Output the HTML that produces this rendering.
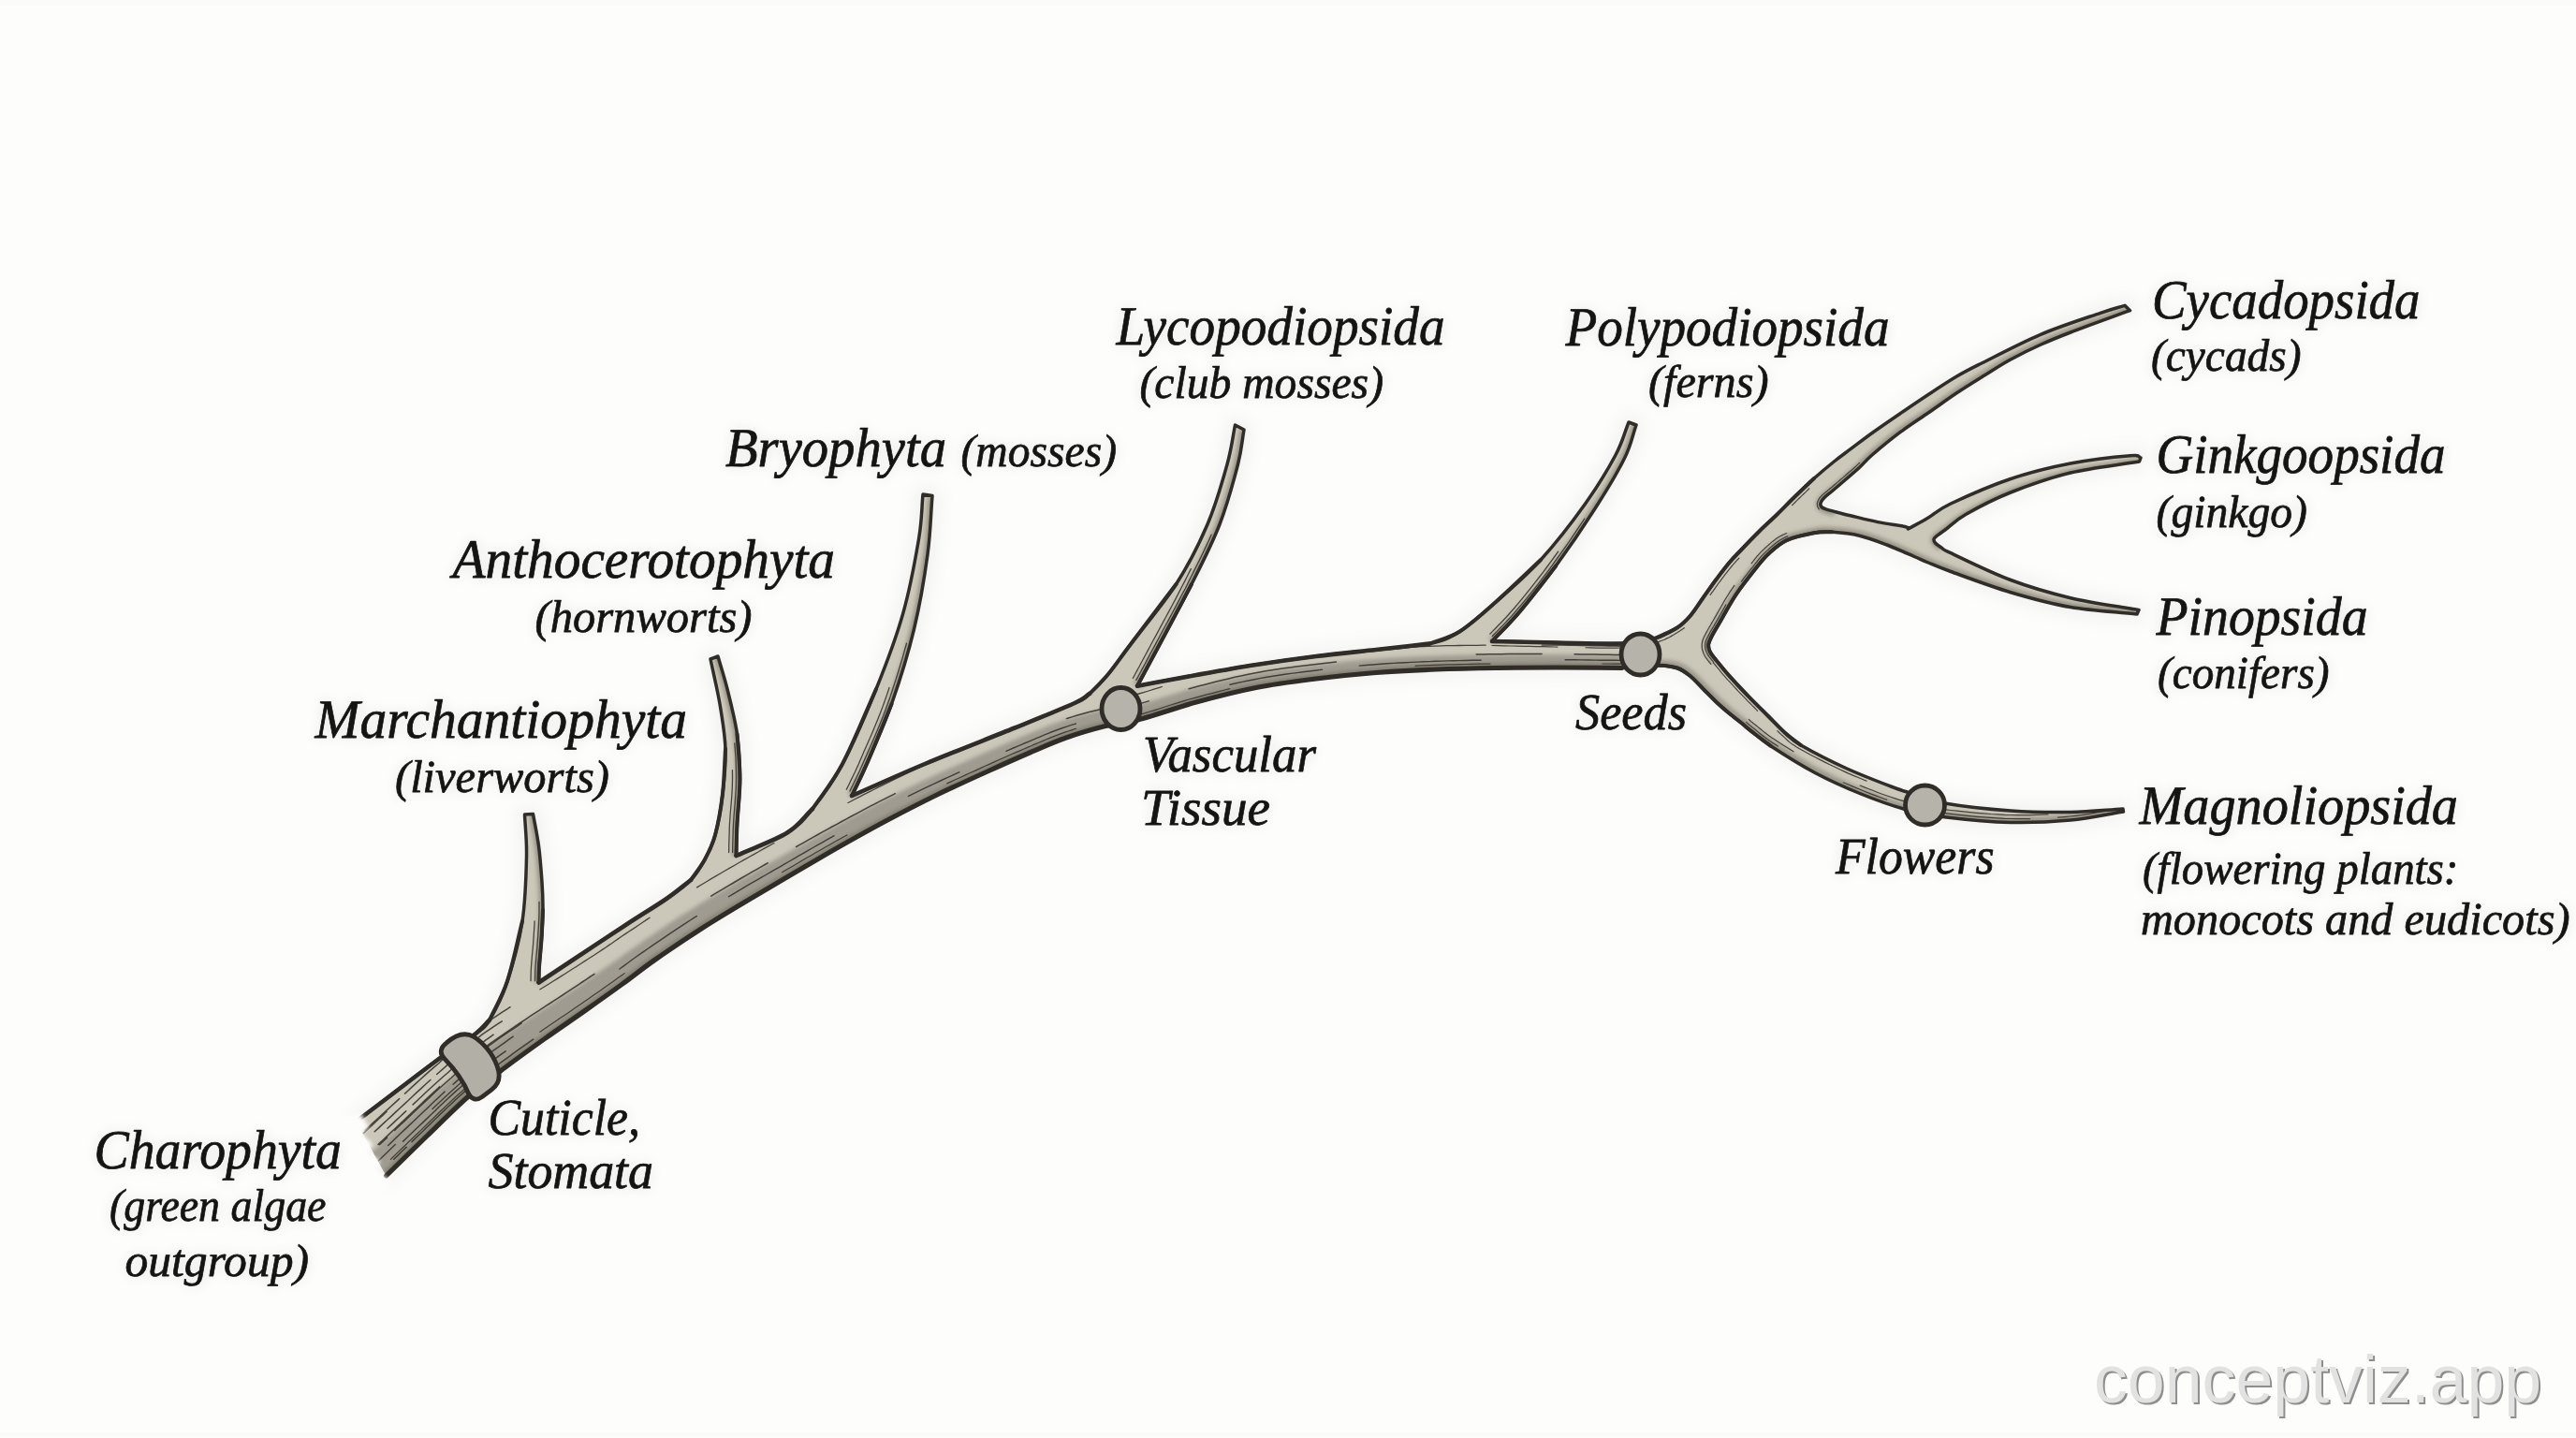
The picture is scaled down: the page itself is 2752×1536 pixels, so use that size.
<!DOCTYPE html>
<html lang="en">
<head>
<meta charset="utf-8">
<title>Land plant phylogeny</title>
<style>
  html, body { margin: 0; padding: 0; background: #fdfdfb; }
  body { width: 2752px; height: 1536px; overflow: hidden; position: relative;
         font-family: "Liberation Serif", serif; }
  svg { position: absolute; left: 0; top: 0; display: block; }
  .lbl text { font-family: "Liberation Serif", serif; font-style: italic; fill: #141414; stroke: #141414; stroke-width: 0.75px; stroke-linejoin: round; text-rendering: geometricPrecision; }
  .wm { position: absolute; left: 2237px; top: 1433px; font-family: "Liberation Sans", sans-serif;
        font-size: 71.7px; line-height: 80px; color: #e2e2e2; white-space: nowrap; letter-spacing: 0px;
        text-shadow: 2px 2px 0 #8e8e8e; }
</style>
</head>
<body>
<svg width="2752" height="1536" viewBox="0 0 2752 1536">
  <defs>
    <clipPath id="sil"><path d="M380.5 1198.0 C393.7 1188.0 404.6 1179.7 420.0 1168.0 C435.4 1156.3 458.5 1138.5 473.0 1128.0 C487.5 1117.5 498.7 1111.4 507.0 1105.0 C515.3 1098.6 517.2 1099.0 523.0 1089.5 C528.8 1080.0 536.2 1065.6 542.0 1048.0 C547.8 1030.4 554.6 1006.2 558.0 984.0 C561.4 961.8 562.1 934.0 562.5 915.0 C562.9 896.0 561.2 885.0 560.5 870.0 L569.5 869.5 C571.5 880.8 573.9 891.4 575.5 903.5 C577.1 915.6 578.2 930.6 579.0 942.0 C579.8 953.4 580.1 961.8 580.0 972.0 C579.9 982.2 579.2 992.8 578.5 1003.0 C577.8 1013.2 576.5 1025.2 576.0 1033.0 C575.5 1040.8 575.7 1044.0 575.5 1049.5 C590.3 1039.7 604.2 1030.4 620.0 1020.0 C635.8 1009.6 654.7 997.0 670.0 987.0 C685.3 977.0 700.7 967.8 712.0 960.0 C723.3 952.2 731.2 947.0 738.0 940.0 C744.8 933.0 748.7 926.0 753.0 918.0 C757.3 910.0 760.8 903.7 764.0 892.0 C767.2 880.3 770.2 863.3 772.0 848.0 C773.8 832.7 775.5 816.0 775.0 800.0 C774.5 784.0 771.7 768.0 769.0 752.0 C766.3 736.0 762.3 720.0 759.0 704.0 L767.0 701.0 C770.3 712.7 773.6 722.2 777.0 736.0 C780.4 749.8 785.2 768.0 787.5 784.0 C789.8 800.0 790.5 816.0 790.5 832.0 C790.5 848.0 788.2 866.3 787.5 880.0 C786.8 893.7 786.8 902.7 786.5 914.0 C804.7 905.8 827.4 897.8 841.0 889.5 C854.6 881.2 858.2 876.2 868.0 864.0 C877.8 851.8 888.7 837.3 900.0 816.0 C911.3 794.7 925.2 762.7 936.0 736.0 C946.8 709.3 956.9 682.7 964.5 656.0 C972.1 629.3 977.9 597.3 981.5 576.0 C985.1 554.7 984.5 544.0 986.0 528.0 L996.0 529.6 C994.3 550.4 994.2 568.3 991.0 592.0 C987.8 615.7 982.9 645.3 976.5 672.0 C970.1 698.7 960.9 728.0 952.5 752.0 C944.1 776.0 933.1 799.7 926.0 816.0 C918.9 832.3 915.3 838.7 910.0 850.0 C936.0 838.7 959.0 828.1 988.0 816.0 C1017.0 803.9 1057.3 788.3 1084.0 777.5 C1110.7 766.7 1134.7 757.1 1148.0 751.0 C1161.3 744.9 1158.0 746.2 1164.0 741.0 C1170.0 735.8 1176.7 728.8 1184.0 720.0 C1191.3 711.2 1195.9 704.0 1208.0 688.0 C1220.1 672.0 1242.8 645.3 1256.5 624.0 C1270.2 602.7 1280.9 581.3 1290.0 560.0 C1299.1 538.7 1306.1 513.7 1311.0 496.0 C1315.9 478.3 1316.7 468.0 1319.5 454.0 L1329.0 459.0 C1326.8 471.3 1326.8 479.2 1322.5 496.0 C1318.2 512.8 1311.2 538.7 1303.0 560.0 C1294.8 581.3 1283.7 602.7 1273.0 624.0 C1262.3 645.3 1248.7 669.9 1239.0 688.0 C1229.3 706.1 1223.0 717.8 1215.0 732.7 C1236.0 728.8 1256.8 724.8 1278.0 721.0 C1299.2 717.2 1320.7 713.3 1342.0 710.0 C1363.3 706.7 1384.7 703.7 1406.0 701.0 C1427.3 698.3 1449.8 696.2 1470.0 694.0 C1490.2 691.8 1512.6 690.8 1527.5 687.5 C1542.4 684.2 1547.8 681.9 1559.5 674.5 C1571.2 667.1 1583.6 655.8 1598.0 643.0 C1612.4 630.2 1630.0 615.6 1646.0 598.0 C1662.0 580.4 1680.7 556.2 1694.0 537.5 C1707.3 518.8 1718.3 500.4 1726.0 486.0 C1733.7 471.6 1735.3 462.7 1740.0 451.0 L1748.0 454.0 C1743.8 465.9 1742.9 474.6 1735.5 489.6 C1728.1 504.6 1715.8 524.8 1703.5 544.0 C1691.2 563.2 1675.3 586.5 1662.0 604.7 C1648.7 623.0 1634.8 640.1 1623.5 653.5 C1612.2 666.9 1603.8 674.5 1594.0 685.0 C1616.7 685.5 1639.0 686.1 1662.0 686.5 C1685.0 686.9 1714.3 688.2 1732.0 687.5 C1749.7 686.8 1758.0 684.8 1768.0 682.0 C1778.0 679.2 1785.4 674.5 1791.7 670.5 C1798.0 666.5 1801.0 663.3 1805.6 658.0 C1810.2 652.7 1814.9 645.0 1819.5 638.5 C1824.1 632.0 1828.8 625.2 1833.4 619.0 C1838.1 612.8 1843.0 606.2 1847.4 601.0 C1851.8 595.8 1854.6 593.2 1860.0 587.5 C1865.4 581.8 1873.5 573.4 1880.0 567.0 C1886.5 560.6 1892.7 555.2 1899.0 549.0 C1905.3 542.8 1911.5 536.3 1918.0 530.0 C1924.5 523.7 1931.0 517.2 1938.0 511.0 C1945.0 504.8 1953.5 497.7 1960.0 492.5 C1966.5 487.3 1970.3 484.7 1977.0 479.7 C1983.7 474.7 1991.2 468.8 2000.0 462.5 C2008.8 456.2 2020.0 448.5 2030.0 441.7 C2040.0 434.9 2050.0 428.1 2060.0 421.5 C2070.0 414.9 2080.7 407.8 2090.0 402.3 C2099.3 396.8 2101.0 396.0 2116.0 388.5 C2131.0 381.0 2158.7 366.3 2180.0 357.3 C2201.3 348.3 2229.0 339.5 2244.0 334.3 C2259.0 329.1 2261.3 329.0 2270.0 326.3 L2275.5 331.7 C2254.3 339.5 2227.8 348.9 2212.0 355.0 C2196.2 361.1 2191.1 363.2 2180.4 368.0 C2169.7 372.8 2158.1 378.5 2148.0 384.0 C2137.9 389.5 2129.7 395.0 2120.0 401.0 C2110.3 407.0 2100.0 413.3 2090.0 420.0 C2080.0 426.7 2070.0 434.1 2060.0 441.0 C2050.0 447.9 2040.0 454.2 2030.0 461.7 C2020.0 469.2 2007.2 479.8 2000.0 486.0 C1992.8 492.2 1991.3 494.9 1986.6 499.2 C1981.9 503.5 1976.9 507.8 1972.0 512.0 C1967.1 516.2 1961.3 521.2 1957.4 524.5 C1953.5 527.8 1950.6 529.8 1948.5 532.0 C1946.4 534.2 1945.4 535.9 1945.0 537.5 C1944.6 539.1 1945.1 540.5 1946.0 541.5 C1946.9 542.5 1948.2 543.0 1950.5 543.8 C1952.8 544.6 1956.8 545.6 1960.0 546.5 C1965.6 547.9 1969.1 548.9 1976.8 550.8 C1984.5 552.6 1996.3 555.6 2006.0 557.6 C2015.7 559.6 2029.6 561.3 2035.0 562.5 C2040.4 563.7 2037.3 564.2 2038.5 565.0 C2045.7 561.0 2052.4 557.5 2060.0 553.0 C2067.6 548.5 2069.3 544.9 2084.0 538.0 C2098.7 531.1 2126.7 518.7 2148.0 511.5 C2169.3 504.3 2190.7 499.1 2212.0 495.0 C2233.3 490.9 2263.5 487.7 2276.0 486.7 C2288.5 485.7 2283.3 488.2 2287.0 489.0 L2285.5 493.0 C2261.0 497.0 2234.9 499.5 2212.0 505.0 C2189.1 510.5 2166.7 518.6 2148.0 526.0 C2129.3 533.4 2111.7 542.8 2100.0 549.5 C2088.3 556.2 2083.2 562.2 2078.0 566.0 C2072.8 569.8 2071.0 570.8 2069.0 572.5 C2067.0 574.2 2066.2 574.8 2066.0 576.0 C2065.8 577.2 2066.2 578.5 2067.5 580.0 C2068.8 581.5 2071.8 583.3 2074.0 585.0 C2077.3 586.9 2071.7 585.0 2084.0 590.7 C2096.3 596.5 2126.7 611.5 2148.0 619.5 C2169.3 627.5 2190.7 633.6 2212.0 638.7 C2233.3 643.8 2263.8 647.9 2276.0 650.0 C2288.2 652.1 2282.0 651.0 2285.0 651.5 L2283.0 656.0 C2259.3 653.5 2234.5 652.4 2212.0 648.5 C2189.5 644.6 2169.3 639.0 2148.0 632.7 C2126.7 626.4 2098.7 615.8 2084.0 610.5 C2069.3 605.2 2066.5 603.7 2060.0 601.0 C2053.5 598.3 2052.4 597.7 2045.0 594.5 C2037.6 591.3 2025.5 585.7 2015.8 582.0 C2006.1 578.3 1996.3 574.5 1986.6 572.2 C1976.9 569.9 1965.5 568.8 1957.4 568.3 C1949.3 567.8 1946.0 567.8 1937.9 569.3 C1929.8 570.8 1916.8 573.4 1908.7 577.1 C1900.6 580.8 1894.8 586.6 1889.2 591.7 C1883.6 596.8 1881.0 600.5 1875.2 607.8 C1869.4 615.1 1860.5 626.3 1854.3 635.6 C1848.1 644.9 1842.3 656.0 1838.0 663.4 C1833.7 670.8 1830.6 675.8 1828.5 680.0 C1826.4 684.2 1825.5 685.8 1825.2 688.5 C1825.0 691.2 1825.6 693.7 1827.0 696.5 C1828.4 699.3 1831.3 702.3 1833.4 705.2 C1838.1 710.8 1841.6 715.4 1847.4 721.9 C1853.2 728.4 1861.2 736.9 1868.2 744.1 C1875.2 751.3 1882.6 758.5 1889.1 765.0 C1895.6 771.5 1901.4 777.8 1907.2 783.0 C1913.0 788.2 1913.2 789.8 1924.0 796.0 C1934.8 802.2 1956.0 813.2 1972.0 820.5 C1988.0 827.8 2008.8 835.7 2020.0 840.0 C2031.2 844.3 2029.4 843.5 2039.0 846.5 C2048.6 849.5 2059.3 854.8 2077.5 858.0 C2095.7 861.2 2125.6 864.4 2148.0 866.0 C2170.4 867.6 2192.0 867.8 2212.0 867.5 C2232.0 867.2 2249.3 865.2 2268.0 864.0 L2268.5 867.0 C2249.7 870.0 2232.1 874.1 2212.0 876.0 C2191.9 877.9 2170.4 879.0 2148.0 878.5 C2125.6 878.0 2096.2 875.0 2077.5 872.7 C2058.8 870.4 2050.9 868.8 2036.0 864.7 C2021.1 860.6 2004.0 854.5 1988.0 848.0 C1972.0 841.5 1956.0 834.5 1940.0 826.0 C1924.0 817.5 1903.7 804.7 1892.0 797.0 C1880.3 789.3 1874.7 784.0 1869.6 780.0 C1864.5 776.0 1865.0 776.0 1861.3 773.0 C1857.6 770.0 1852.1 765.9 1847.4 762.0 C1842.8 758.1 1838.1 754.1 1833.4 749.7 C1828.8 745.3 1824.1 740.4 1819.5 735.8 C1814.9 731.2 1810.2 725.7 1805.6 722.0 C1801.0 718.3 1797.2 715.4 1791.7 713.5 C1786.2 711.6 1782.2 710.7 1772.3 710.7 C1762.3 710.7 1745.4 712.6 1732.0 713.5 C1708.7 713.3 1684.3 713.0 1662.0 713.0 C1639.7 713.0 1619.3 713.2 1598.0 713.5 C1576.7 713.8 1555.3 714.2 1534.0 715.0 C1512.7 715.8 1491.3 716.8 1470.0 718.5 C1448.7 720.2 1427.3 722.3 1406.0 725.0 C1384.7 727.7 1363.3 730.3 1342.0 734.5 C1320.7 738.7 1298.5 744.4 1278.0 750.0 C1257.5 755.6 1235.2 763.8 1219.0 768.0 C1202.8 772.2 1194.3 772.2 1181.0 775.5 C1167.7 778.8 1152.5 783.2 1139.0 788.0 C1125.5 792.8 1114.0 798.0 1100.0 804.0 C1086.0 810.0 1071.7 816.4 1055.0 824.0 C1038.3 831.6 1017.5 841.0 1000.0 849.5 C982.5 858.0 966.7 866.2 950.0 875.0 C933.3 883.8 916.7 893.1 900.0 902.5 C883.3 911.9 866.7 921.8 850.0 931.5 C833.3 941.2 816.7 951.0 800.0 961.0 C783.3 971.0 766.7 980.8 750.0 991.5 C733.3 1002.2 714.2 1015.1 700.0 1025.0 C685.8 1034.9 677.5 1041.9 665.0 1051.0 C652.5 1060.1 638.8 1069.8 625.0 1079.5 C611.2 1089.2 596.2 1099.4 582.0 1109.5 C567.8 1119.6 553.7 1129.7 540.0 1140.0 C526.3 1150.3 514.0 1159.2 500.0 1171.5 C486.0 1183.8 470.6 1199.4 456.0 1213.5 C441.4 1227.6 427.0 1241.8 412.5 1256.0 Z"/></clipPath>
    <filter id="b2" x="-5%" y="-5%" width="110%" height="110%"><feGaussianBlur stdDeviation="2.2"/></filter>
    <filter id="b4" x="-5%" y="-5%" width="110%" height="110%"><feGaussianBlur stdDeviation="4"/></filter>
    <filter id="b8" x="-5%" y="-5%" width="110%" height="110%"><feGaussianBlur stdDeviation="7"/></filter>
    <filter id="halo" x="-5%" y="-5%" width="110%" height="110%"><feGaussianBlur stdDeviation="9"/></filter>
    <linearGradient id="cut" gradientUnits="userSpaceOnUse" x1="378" y1="1240" x2="420" y2="1208">
      <stop offset="0" stop-color="#fdfdfb" stop-opacity="1"/>
      <stop offset="0.35" stop-color="#fdfdfb" stop-opacity="0.9"/>
      <stop offset="1" stop-color="#fdfdfb" stop-opacity="0"/>
    </linearGradient>
  </defs>
  <rect width="2752" height="1536" fill="#fdfdfb"/>

  <rect x="0" y="0" width="2752" height="5" fill="#000" fill-opacity="0.008"/>
  <rect x="0" y="1530" width="2752" height="5" fill="#000" fill-opacity="0.008"/>

  <!-- soft paper halo under the drawing -->
  <path d="M380.5 1198.0 C393.7 1188.0 404.6 1179.7 420.0 1168.0 C435.4 1156.3 458.5 1138.5 473.0 1128.0 C487.5 1117.5 498.7 1111.4 507.0 1105.0 C515.3 1098.6 517.2 1099.0 523.0 1089.5 C528.8 1080.0 536.2 1065.6 542.0 1048.0 C547.8 1030.4 554.6 1006.2 558.0 984.0 C561.4 961.8 562.1 934.0 562.5 915.0 C562.9 896.0 561.2 885.0 560.5 870.0 L569.5 869.5 C571.5 880.8 573.9 891.4 575.5 903.5 C577.1 915.6 578.2 930.6 579.0 942.0 C579.8 953.4 580.1 961.8 580.0 972.0 C579.9 982.2 579.2 992.8 578.5 1003.0 C577.8 1013.2 576.5 1025.2 576.0 1033.0 C575.5 1040.8 575.7 1044.0 575.5 1049.5 C590.3 1039.7 604.2 1030.4 620.0 1020.0 C635.8 1009.6 654.7 997.0 670.0 987.0 C685.3 977.0 700.7 967.8 712.0 960.0 C723.3 952.2 731.2 947.0 738.0 940.0 C744.8 933.0 748.7 926.0 753.0 918.0 C757.3 910.0 760.8 903.7 764.0 892.0 C767.2 880.3 770.2 863.3 772.0 848.0 C773.8 832.7 775.5 816.0 775.0 800.0 C774.5 784.0 771.7 768.0 769.0 752.0 C766.3 736.0 762.3 720.0 759.0 704.0 L767.0 701.0 C770.3 712.7 773.6 722.2 777.0 736.0 C780.4 749.8 785.2 768.0 787.5 784.0 C789.8 800.0 790.5 816.0 790.5 832.0 C790.5 848.0 788.2 866.3 787.5 880.0 C786.8 893.7 786.8 902.7 786.5 914.0 C804.7 905.8 827.4 897.8 841.0 889.5 C854.6 881.2 858.2 876.2 868.0 864.0 C877.8 851.8 888.7 837.3 900.0 816.0 C911.3 794.7 925.2 762.7 936.0 736.0 C946.8 709.3 956.9 682.7 964.5 656.0 C972.1 629.3 977.9 597.3 981.5 576.0 C985.1 554.7 984.5 544.0 986.0 528.0 L996.0 529.6 C994.3 550.4 994.2 568.3 991.0 592.0 C987.8 615.7 982.9 645.3 976.5 672.0 C970.1 698.7 960.9 728.0 952.5 752.0 C944.1 776.0 933.1 799.7 926.0 816.0 C918.9 832.3 915.3 838.7 910.0 850.0 C936.0 838.7 959.0 828.1 988.0 816.0 C1017.0 803.9 1057.3 788.3 1084.0 777.5 C1110.7 766.7 1134.7 757.1 1148.0 751.0 C1161.3 744.9 1158.0 746.2 1164.0 741.0 C1170.0 735.8 1176.7 728.8 1184.0 720.0 C1191.3 711.2 1195.9 704.0 1208.0 688.0 C1220.1 672.0 1242.8 645.3 1256.5 624.0 C1270.2 602.7 1280.9 581.3 1290.0 560.0 C1299.1 538.7 1306.1 513.7 1311.0 496.0 C1315.9 478.3 1316.7 468.0 1319.5 454.0 L1329.0 459.0 C1326.8 471.3 1326.8 479.2 1322.5 496.0 C1318.2 512.8 1311.2 538.7 1303.0 560.0 C1294.8 581.3 1283.7 602.7 1273.0 624.0 C1262.3 645.3 1248.7 669.9 1239.0 688.0 C1229.3 706.1 1223.0 717.8 1215.0 732.7 C1236.0 728.8 1256.8 724.8 1278.0 721.0 C1299.2 717.2 1320.7 713.3 1342.0 710.0 C1363.3 706.7 1384.7 703.7 1406.0 701.0 C1427.3 698.3 1449.8 696.2 1470.0 694.0 C1490.2 691.8 1512.6 690.8 1527.5 687.5 C1542.4 684.2 1547.8 681.9 1559.5 674.5 C1571.2 667.1 1583.6 655.8 1598.0 643.0 C1612.4 630.2 1630.0 615.6 1646.0 598.0 C1662.0 580.4 1680.7 556.2 1694.0 537.5 C1707.3 518.8 1718.3 500.4 1726.0 486.0 C1733.7 471.6 1735.3 462.7 1740.0 451.0 L1748.0 454.0 C1743.8 465.9 1742.9 474.6 1735.5 489.6 C1728.1 504.6 1715.8 524.8 1703.5 544.0 C1691.2 563.2 1675.3 586.5 1662.0 604.7 C1648.7 623.0 1634.8 640.1 1623.5 653.5 C1612.2 666.9 1603.8 674.5 1594.0 685.0 C1616.7 685.5 1639.0 686.1 1662.0 686.5 C1685.0 686.9 1714.3 688.2 1732.0 687.5 C1749.7 686.8 1758.0 684.8 1768.0 682.0 C1778.0 679.2 1785.4 674.5 1791.7 670.5 C1798.0 666.5 1801.0 663.3 1805.6 658.0 C1810.2 652.7 1814.9 645.0 1819.5 638.5 C1824.1 632.0 1828.8 625.2 1833.4 619.0 C1838.1 612.8 1843.0 606.2 1847.4 601.0 C1851.8 595.8 1854.6 593.2 1860.0 587.5 C1865.4 581.8 1873.5 573.4 1880.0 567.0 C1886.5 560.6 1892.7 555.2 1899.0 549.0 C1905.3 542.8 1911.5 536.3 1918.0 530.0 C1924.5 523.7 1931.0 517.2 1938.0 511.0 C1945.0 504.8 1953.5 497.7 1960.0 492.5 C1966.5 487.3 1970.3 484.7 1977.0 479.7 C1983.7 474.7 1991.2 468.8 2000.0 462.5 C2008.8 456.2 2020.0 448.5 2030.0 441.7 C2040.0 434.9 2050.0 428.1 2060.0 421.5 C2070.0 414.9 2080.7 407.8 2090.0 402.3 C2099.3 396.8 2101.0 396.0 2116.0 388.5 C2131.0 381.0 2158.7 366.3 2180.0 357.3 C2201.3 348.3 2229.0 339.5 2244.0 334.3 C2259.0 329.1 2261.3 329.0 2270.0 326.3 L2275.5 331.7 C2254.3 339.5 2227.8 348.9 2212.0 355.0 C2196.2 361.1 2191.1 363.2 2180.4 368.0 C2169.7 372.8 2158.1 378.5 2148.0 384.0 C2137.9 389.5 2129.7 395.0 2120.0 401.0 C2110.3 407.0 2100.0 413.3 2090.0 420.0 C2080.0 426.7 2070.0 434.1 2060.0 441.0 C2050.0 447.9 2040.0 454.2 2030.0 461.7 C2020.0 469.2 2007.2 479.8 2000.0 486.0 C1992.8 492.2 1991.3 494.9 1986.6 499.2 C1981.9 503.5 1976.9 507.8 1972.0 512.0 C1967.1 516.2 1961.3 521.2 1957.4 524.5 C1953.5 527.8 1950.6 529.8 1948.5 532.0 C1946.4 534.2 1945.4 535.9 1945.0 537.5 C1944.6 539.1 1945.1 540.5 1946.0 541.5 C1946.9 542.5 1948.2 543.0 1950.5 543.8 C1952.8 544.6 1956.8 545.6 1960.0 546.5 C1965.6 547.9 1969.1 548.9 1976.8 550.8 C1984.5 552.6 1996.3 555.6 2006.0 557.6 C2015.7 559.6 2029.6 561.3 2035.0 562.5 C2040.4 563.7 2037.3 564.2 2038.5 565.0 C2045.7 561.0 2052.4 557.5 2060.0 553.0 C2067.6 548.5 2069.3 544.9 2084.0 538.0 C2098.7 531.1 2126.7 518.7 2148.0 511.5 C2169.3 504.3 2190.7 499.1 2212.0 495.0 C2233.3 490.9 2263.5 487.7 2276.0 486.7 C2288.5 485.7 2283.3 488.2 2287.0 489.0 L2285.5 493.0 C2261.0 497.0 2234.9 499.5 2212.0 505.0 C2189.1 510.5 2166.7 518.6 2148.0 526.0 C2129.3 533.4 2111.7 542.8 2100.0 549.5 C2088.3 556.2 2083.2 562.2 2078.0 566.0 C2072.8 569.8 2071.0 570.8 2069.0 572.5 C2067.0 574.2 2066.2 574.8 2066.0 576.0 C2065.8 577.2 2066.2 578.5 2067.5 580.0 C2068.8 581.5 2071.8 583.3 2074.0 585.0 C2077.3 586.9 2071.7 585.0 2084.0 590.7 C2096.3 596.5 2126.7 611.5 2148.0 619.5 C2169.3 627.5 2190.7 633.6 2212.0 638.7 C2233.3 643.8 2263.8 647.9 2276.0 650.0 C2288.2 652.1 2282.0 651.0 2285.0 651.5 L2283.0 656.0 C2259.3 653.5 2234.5 652.4 2212.0 648.5 C2189.5 644.6 2169.3 639.0 2148.0 632.7 C2126.7 626.4 2098.7 615.8 2084.0 610.5 C2069.3 605.2 2066.5 603.7 2060.0 601.0 C2053.5 598.3 2052.4 597.7 2045.0 594.5 C2037.6 591.3 2025.5 585.7 2015.8 582.0 C2006.1 578.3 1996.3 574.5 1986.6 572.2 C1976.9 569.9 1965.5 568.8 1957.4 568.3 C1949.3 567.8 1946.0 567.8 1937.9 569.3 C1929.8 570.8 1916.8 573.4 1908.7 577.1 C1900.6 580.8 1894.8 586.6 1889.2 591.7 C1883.6 596.8 1881.0 600.5 1875.2 607.8 C1869.4 615.1 1860.5 626.3 1854.3 635.6 C1848.1 644.9 1842.3 656.0 1838.0 663.4 C1833.7 670.8 1830.6 675.8 1828.5 680.0 C1826.4 684.2 1825.5 685.8 1825.2 688.5 C1825.0 691.2 1825.6 693.7 1827.0 696.5 C1828.4 699.3 1831.3 702.3 1833.4 705.2 C1838.1 710.8 1841.6 715.4 1847.4 721.9 C1853.2 728.4 1861.2 736.9 1868.2 744.1 C1875.2 751.3 1882.6 758.5 1889.1 765.0 C1895.6 771.5 1901.4 777.8 1907.2 783.0 C1913.0 788.2 1913.2 789.8 1924.0 796.0 C1934.8 802.2 1956.0 813.2 1972.0 820.5 C1988.0 827.8 2008.8 835.7 2020.0 840.0 C2031.2 844.3 2029.4 843.5 2039.0 846.5 C2048.6 849.5 2059.3 854.8 2077.5 858.0 C2095.7 861.2 2125.6 864.4 2148.0 866.0 C2170.4 867.6 2192.0 867.8 2212.0 867.5 C2232.0 867.2 2249.3 865.2 2268.0 864.0 L2268.5 867.0 C2249.7 870.0 2232.1 874.1 2212.0 876.0 C2191.9 877.9 2170.4 879.0 2148.0 878.5 C2125.6 878.0 2096.2 875.0 2077.5 872.7 C2058.8 870.4 2050.9 868.8 2036.0 864.7 C2021.1 860.6 2004.0 854.5 1988.0 848.0 C1972.0 841.5 1956.0 834.5 1940.0 826.0 C1924.0 817.5 1903.7 804.7 1892.0 797.0 C1880.3 789.3 1874.7 784.0 1869.6 780.0 C1864.5 776.0 1865.0 776.0 1861.3 773.0 C1857.6 770.0 1852.1 765.9 1847.4 762.0 C1842.8 758.1 1838.1 754.1 1833.4 749.7 C1828.8 745.3 1824.1 740.4 1819.5 735.8 C1814.9 731.2 1810.2 725.7 1805.6 722.0 C1801.0 718.3 1797.2 715.4 1791.7 713.5 C1786.2 711.6 1782.2 710.7 1772.3 710.7 C1762.3 710.7 1745.4 712.6 1732.0 713.5 C1708.7 713.3 1684.3 713.0 1662.0 713.0 C1639.7 713.0 1619.3 713.2 1598.0 713.5 C1576.7 713.8 1555.3 714.2 1534.0 715.0 C1512.7 715.8 1491.3 716.8 1470.0 718.5 C1448.7 720.2 1427.3 722.3 1406.0 725.0 C1384.7 727.7 1363.3 730.3 1342.0 734.5 C1320.7 738.7 1298.5 744.4 1278.0 750.0 C1257.5 755.6 1235.2 763.8 1219.0 768.0 C1202.8 772.2 1194.3 772.2 1181.0 775.5 C1167.7 778.8 1152.5 783.2 1139.0 788.0 C1125.5 792.8 1114.0 798.0 1100.0 804.0 C1086.0 810.0 1071.7 816.4 1055.0 824.0 C1038.3 831.6 1017.5 841.0 1000.0 849.5 C982.5 858.0 966.7 866.2 950.0 875.0 C933.3 883.8 916.7 893.1 900.0 902.5 C883.3 911.9 866.7 921.8 850.0 931.5 C833.3 941.2 816.7 951.0 800.0 961.0 C783.3 971.0 766.7 980.8 750.0 991.5 C733.3 1002.2 714.2 1015.1 700.0 1025.0 C685.8 1034.9 677.5 1041.9 665.0 1051.0 C652.5 1060.1 638.8 1069.8 625.0 1079.5 C611.2 1089.2 596.2 1099.4 582.0 1109.5 C567.8 1119.6 553.7 1129.7 540.0 1140.0 C526.3 1150.3 514.0 1159.2 500.0 1171.5 C486.0 1183.8 470.6 1199.4 456.0 1213.5 C441.4 1227.6 427.0 1241.8 412.5 1256.0 Z" fill="none" stroke="#000" stroke-opacity="0.05" stroke-width="14" filter="url(#halo)"/>

  <!-- branch body -->
  <path d="M380.5 1198.0 C393.7 1188.0 404.6 1179.7 420.0 1168.0 C435.4 1156.3 458.5 1138.5 473.0 1128.0 C487.5 1117.5 498.7 1111.4 507.0 1105.0 C515.3 1098.6 517.2 1099.0 523.0 1089.5 C528.8 1080.0 536.2 1065.6 542.0 1048.0 C547.8 1030.4 554.6 1006.2 558.0 984.0 C561.4 961.8 562.1 934.0 562.5 915.0 C562.9 896.0 561.2 885.0 560.5 870.0 L569.5 869.5 C571.5 880.8 573.9 891.4 575.5 903.5 C577.1 915.6 578.2 930.6 579.0 942.0 C579.8 953.4 580.1 961.8 580.0 972.0 C579.9 982.2 579.2 992.8 578.5 1003.0 C577.8 1013.2 576.5 1025.2 576.0 1033.0 C575.5 1040.8 575.7 1044.0 575.5 1049.5 C590.3 1039.7 604.2 1030.4 620.0 1020.0 C635.8 1009.6 654.7 997.0 670.0 987.0 C685.3 977.0 700.7 967.8 712.0 960.0 C723.3 952.2 731.2 947.0 738.0 940.0 C744.8 933.0 748.7 926.0 753.0 918.0 C757.3 910.0 760.8 903.7 764.0 892.0 C767.2 880.3 770.2 863.3 772.0 848.0 C773.8 832.7 775.5 816.0 775.0 800.0 C774.5 784.0 771.7 768.0 769.0 752.0 C766.3 736.0 762.3 720.0 759.0 704.0 L767.0 701.0 C770.3 712.7 773.6 722.2 777.0 736.0 C780.4 749.8 785.2 768.0 787.5 784.0 C789.8 800.0 790.5 816.0 790.5 832.0 C790.5 848.0 788.2 866.3 787.5 880.0 C786.8 893.7 786.8 902.7 786.5 914.0 C804.7 905.8 827.4 897.8 841.0 889.5 C854.6 881.2 858.2 876.2 868.0 864.0 C877.8 851.8 888.7 837.3 900.0 816.0 C911.3 794.7 925.2 762.7 936.0 736.0 C946.8 709.3 956.9 682.7 964.5 656.0 C972.1 629.3 977.9 597.3 981.5 576.0 C985.1 554.7 984.5 544.0 986.0 528.0 L996.0 529.6 C994.3 550.4 994.2 568.3 991.0 592.0 C987.8 615.7 982.9 645.3 976.5 672.0 C970.1 698.7 960.9 728.0 952.5 752.0 C944.1 776.0 933.1 799.7 926.0 816.0 C918.9 832.3 915.3 838.7 910.0 850.0 C936.0 838.7 959.0 828.1 988.0 816.0 C1017.0 803.9 1057.3 788.3 1084.0 777.5 C1110.7 766.7 1134.7 757.1 1148.0 751.0 C1161.3 744.9 1158.0 746.2 1164.0 741.0 C1170.0 735.8 1176.7 728.8 1184.0 720.0 C1191.3 711.2 1195.9 704.0 1208.0 688.0 C1220.1 672.0 1242.8 645.3 1256.5 624.0 C1270.2 602.7 1280.9 581.3 1290.0 560.0 C1299.1 538.7 1306.1 513.7 1311.0 496.0 C1315.9 478.3 1316.7 468.0 1319.5 454.0 L1329.0 459.0 C1326.8 471.3 1326.8 479.2 1322.5 496.0 C1318.2 512.8 1311.2 538.7 1303.0 560.0 C1294.8 581.3 1283.7 602.7 1273.0 624.0 C1262.3 645.3 1248.7 669.9 1239.0 688.0 C1229.3 706.1 1223.0 717.8 1215.0 732.7 C1236.0 728.8 1256.8 724.8 1278.0 721.0 C1299.2 717.2 1320.7 713.3 1342.0 710.0 C1363.3 706.7 1384.7 703.7 1406.0 701.0 C1427.3 698.3 1449.8 696.2 1470.0 694.0 C1490.2 691.8 1512.6 690.8 1527.5 687.5 C1542.4 684.2 1547.8 681.9 1559.5 674.5 C1571.2 667.1 1583.6 655.8 1598.0 643.0 C1612.4 630.2 1630.0 615.6 1646.0 598.0 C1662.0 580.4 1680.7 556.2 1694.0 537.5 C1707.3 518.8 1718.3 500.4 1726.0 486.0 C1733.7 471.6 1735.3 462.7 1740.0 451.0 L1748.0 454.0 C1743.8 465.9 1742.9 474.6 1735.5 489.6 C1728.1 504.6 1715.8 524.8 1703.5 544.0 C1691.2 563.2 1675.3 586.5 1662.0 604.7 C1648.7 623.0 1634.8 640.1 1623.5 653.5 C1612.2 666.9 1603.8 674.5 1594.0 685.0 C1616.7 685.5 1639.0 686.1 1662.0 686.5 C1685.0 686.9 1714.3 688.2 1732.0 687.5 C1749.7 686.8 1758.0 684.8 1768.0 682.0 C1778.0 679.2 1785.4 674.5 1791.7 670.5 C1798.0 666.5 1801.0 663.3 1805.6 658.0 C1810.2 652.7 1814.9 645.0 1819.5 638.5 C1824.1 632.0 1828.8 625.2 1833.4 619.0 C1838.1 612.8 1843.0 606.2 1847.4 601.0 C1851.8 595.8 1854.6 593.2 1860.0 587.5 C1865.4 581.8 1873.5 573.4 1880.0 567.0 C1886.5 560.6 1892.7 555.2 1899.0 549.0 C1905.3 542.8 1911.5 536.3 1918.0 530.0 C1924.5 523.7 1931.0 517.2 1938.0 511.0 C1945.0 504.8 1953.5 497.7 1960.0 492.5 C1966.5 487.3 1970.3 484.7 1977.0 479.7 C1983.7 474.7 1991.2 468.8 2000.0 462.5 C2008.8 456.2 2020.0 448.5 2030.0 441.7 C2040.0 434.9 2050.0 428.1 2060.0 421.5 C2070.0 414.9 2080.7 407.8 2090.0 402.3 C2099.3 396.8 2101.0 396.0 2116.0 388.5 C2131.0 381.0 2158.7 366.3 2180.0 357.3 C2201.3 348.3 2229.0 339.5 2244.0 334.3 C2259.0 329.1 2261.3 329.0 2270.0 326.3 L2275.5 331.7 C2254.3 339.5 2227.8 348.9 2212.0 355.0 C2196.2 361.1 2191.1 363.2 2180.4 368.0 C2169.7 372.8 2158.1 378.5 2148.0 384.0 C2137.9 389.5 2129.7 395.0 2120.0 401.0 C2110.3 407.0 2100.0 413.3 2090.0 420.0 C2080.0 426.7 2070.0 434.1 2060.0 441.0 C2050.0 447.9 2040.0 454.2 2030.0 461.7 C2020.0 469.2 2007.2 479.8 2000.0 486.0 C1992.8 492.2 1991.3 494.9 1986.6 499.2 C1981.9 503.5 1976.9 507.8 1972.0 512.0 C1967.1 516.2 1961.3 521.2 1957.4 524.5 C1953.5 527.8 1950.6 529.8 1948.5 532.0 C1946.4 534.2 1945.4 535.9 1945.0 537.5 C1944.6 539.1 1945.1 540.5 1946.0 541.5 C1946.9 542.5 1948.2 543.0 1950.5 543.8 C1952.8 544.6 1956.8 545.6 1960.0 546.5 C1965.6 547.9 1969.1 548.9 1976.8 550.8 C1984.5 552.6 1996.3 555.6 2006.0 557.6 C2015.7 559.6 2029.6 561.3 2035.0 562.5 C2040.4 563.7 2037.3 564.2 2038.5 565.0 C2045.7 561.0 2052.4 557.5 2060.0 553.0 C2067.6 548.5 2069.3 544.9 2084.0 538.0 C2098.7 531.1 2126.7 518.7 2148.0 511.5 C2169.3 504.3 2190.7 499.1 2212.0 495.0 C2233.3 490.9 2263.5 487.7 2276.0 486.7 C2288.5 485.7 2283.3 488.2 2287.0 489.0 L2285.5 493.0 C2261.0 497.0 2234.9 499.5 2212.0 505.0 C2189.1 510.5 2166.7 518.6 2148.0 526.0 C2129.3 533.4 2111.7 542.8 2100.0 549.5 C2088.3 556.2 2083.2 562.2 2078.0 566.0 C2072.8 569.8 2071.0 570.8 2069.0 572.5 C2067.0 574.2 2066.2 574.8 2066.0 576.0 C2065.8 577.2 2066.2 578.5 2067.5 580.0 C2068.8 581.5 2071.8 583.3 2074.0 585.0 C2077.3 586.9 2071.7 585.0 2084.0 590.7 C2096.3 596.5 2126.7 611.5 2148.0 619.5 C2169.3 627.5 2190.7 633.6 2212.0 638.7 C2233.3 643.8 2263.8 647.9 2276.0 650.0 C2288.2 652.1 2282.0 651.0 2285.0 651.5 L2283.0 656.0 C2259.3 653.5 2234.5 652.4 2212.0 648.5 C2189.5 644.6 2169.3 639.0 2148.0 632.7 C2126.7 626.4 2098.7 615.8 2084.0 610.5 C2069.3 605.2 2066.5 603.7 2060.0 601.0 C2053.5 598.3 2052.4 597.7 2045.0 594.5 C2037.6 591.3 2025.5 585.7 2015.8 582.0 C2006.1 578.3 1996.3 574.5 1986.6 572.2 C1976.9 569.9 1965.5 568.8 1957.4 568.3 C1949.3 567.8 1946.0 567.8 1937.9 569.3 C1929.8 570.8 1916.8 573.4 1908.7 577.1 C1900.6 580.8 1894.8 586.6 1889.2 591.7 C1883.6 596.8 1881.0 600.5 1875.2 607.8 C1869.4 615.1 1860.5 626.3 1854.3 635.6 C1848.1 644.9 1842.3 656.0 1838.0 663.4 C1833.7 670.8 1830.6 675.8 1828.5 680.0 C1826.4 684.2 1825.5 685.8 1825.2 688.5 C1825.0 691.2 1825.6 693.7 1827.0 696.5 C1828.4 699.3 1831.3 702.3 1833.4 705.2 C1838.1 710.8 1841.6 715.4 1847.4 721.9 C1853.2 728.4 1861.2 736.9 1868.2 744.1 C1875.2 751.3 1882.6 758.5 1889.1 765.0 C1895.6 771.5 1901.4 777.8 1907.2 783.0 C1913.0 788.2 1913.2 789.8 1924.0 796.0 C1934.8 802.2 1956.0 813.2 1972.0 820.5 C1988.0 827.8 2008.8 835.7 2020.0 840.0 C2031.2 844.3 2029.4 843.5 2039.0 846.5 C2048.6 849.5 2059.3 854.8 2077.5 858.0 C2095.7 861.2 2125.6 864.4 2148.0 866.0 C2170.4 867.6 2192.0 867.8 2212.0 867.5 C2232.0 867.2 2249.3 865.2 2268.0 864.0 L2268.5 867.0 C2249.7 870.0 2232.1 874.1 2212.0 876.0 C2191.9 877.9 2170.4 879.0 2148.0 878.5 C2125.6 878.0 2096.2 875.0 2077.5 872.7 C2058.8 870.4 2050.9 868.8 2036.0 864.7 C2021.1 860.6 2004.0 854.5 1988.0 848.0 C1972.0 841.5 1956.0 834.5 1940.0 826.0 C1924.0 817.5 1903.7 804.7 1892.0 797.0 C1880.3 789.3 1874.7 784.0 1869.6 780.0 C1864.5 776.0 1865.0 776.0 1861.3 773.0 C1857.6 770.0 1852.1 765.9 1847.4 762.0 C1842.8 758.1 1838.1 754.1 1833.4 749.7 C1828.8 745.3 1824.1 740.4 1819.5 735.8 C1814.9 731.2 1810.2 725.7 1805.6 722.0 C1801.0 718.3 1797.2 715.4 1791.7 713.5 C1786.2 711.6 1782.2 710.7 1772.3 710.7 C1762.3 710.7 1745.4 712.6 1732.0 713.5 C1708.7 713.3 1684.3 713.0 1662.0 713.0 C1639.7 713.0 1619.3 713.2 1598.0 713.5 C1576.7 713.8 1555.3 714.2 1534.0 715.0 C1512.7 715.8 1491.3 716.8 1470.0 718.5 C1448.7 720.2 1427.3 722.3 1406.0 725.0 C1384.7 727.7 1363.3 730.3 1342.0 734.5 C1320.7 738.7 1298.5 744.4 1278.0 750.0 C1257.5 755.6 1235.2 763.8 1219.0 768.0 C1202.8 772.2 1194.3 772.2 1181.0 775.5 C1167.7 778.8 1152.5 783.2 1139.0 788.0 C1125.5 792.8 1114.0 798.0 1100.0 804.0 C1086.0 810.0 1071.7 816.4 1055.0 824.0 C1038.3 831.6 1017.5 841.0 1000.0 849.5 C982.5 858.0 966.7 866.2 950.0 875.0 C933.3 883.8 916.7 893.1 900.0 902.5 C883.3 911.9 866.7 921.8 850.0 931.5 C833.3 941.2 816.7 951.0 800.0 961.0 C783.3 971.0 766.7 980.8 750.0 991.5 C733.3 1002.2 714.2 1015.1 700.0 1025.0 C685.8 1034.9 677.5 1041.9 665.0 1051.0 C652.5 1060.1 638.8 1069.8 625.0 1079.5 C611.2 1089.2 596.2 1099.4 582.0 1109.5 C567.8 1119.6 553.7 1129.7 540.0 1140.0 C526.3 1150.3 514.0 1159.2 500.0 1171.5 C486.0 1183.8 470.6 1199.4 456.0 1213.5 C441.4 1227.6 427.0 1241.8 412.5 1256.0 Z" fill="#cbc7b9"/>
  <g clip-path="url(#sil)">
    <g filter="url(#b2)">
      <path d="M1732.0 713.5 L1725.0 713.4 L1717.9 713.4 L1710.8 713.3 L1703.7 713.3 L1696.6 713.2 L1689.6 713.1 L1682.6 713.1 L1675.6 713.0 L1668.8 713.0 L1662.0 713.0 L1655.4 713.0 L1648.8 713.0 L1642.4 713.0 L1636.0 713.1 L1629.6 713.1 L1623.3 713.2 L1617.0 713.2 L1610.7 713.3 L1604.4 713.4 L1598.0 713.5 L1591.6 713.6 L1585.2 713.7 L1578.8 713.8 L1572.4 713.9 L1566.0 714.1 L1559.6 714.2 L1553.2 714.4 L1546.8 714.6 L1540.4 714.8 L1534.0 715.0 L1527.6 715.3 L1521.2 715.5 L1514.8 715.8 L1508.4 716.1 L1502.0 716.4 L1495.6 716.8 L1489.2 717.2 L1482.8 717.6 L1476.4 718.0 L1470.0 718.5 L1463.6 719.0 L1457.2 719.6 L1450.8 720.1 L1444.4 720.7 L1438.0 721.4 L1431.6 722.0 L1425.2 722.7 L1418.8 723.5 L1412.4 724.2 L1406.0 725.0 L1399.6 725.8 L1393.2 726.6 L1386.8 727.4 L1380.4 728.3 L1374.0 729.2 L1367.6 730.1 L1361.2 731.1 L1354.8 732.2 L1348.4 733.3 L1342.0 734.5 L1335.6 735.8 L1329.1 737.2 L1322.6 738.6 L1316.2 740.1 L1309.7 741.7 L1303.2 743.3 L1296.8 745.0 L1290.5 746.6 L1284.2 748.3 L1278.0 750.0 L1271.8 751.7 L1265.5 753.6 L1259.3 755.5 L1253.0 757.5 L1246.9 759.5 L1240.8 761.4 L1235.0 763.3 L1229.4 765.0 L1224.0 766.6 L1219.0 768.0 L1214.4 769.2 L1210.1 770.1 L1206.2 770.9 L1202.5 771.5 L1198.9 772.1 L1195.5 772.6 L1192.0 773.2 L1188.5 773.8 L1184.9 774.6 L1181.0 775.5 L1176.9 776.5 L1172.8 777.6 L1168.6 778.8 L1164.3 780.0 L1160.1 781.2 L1155.8 782.5 L1151.5 783.8 L1147.3 785.2 L1143.1 786.6 L1139.0 788.0 L1135.0 789.4 L1131.1 790.9 L1127.3 792.4 L1123.5 794.0 L1119.7 795.5 L1115.9 797.1 L1112.0 798.8 L1108.1 800.5 L1104.1 802.2 L1100.0 804.0 L1095.8 805.8 L1091.5 807.7 L1087.3 809.5 L1082.9 811.4 L1078.5 813.4 L1074.0 815.4 L1069.4 817.5 L1064.7 819.6 L1059.9 821.8 L1055.0 824.0 L1049.9 826.3 L1044.6 828.7 L1039.1 831.2 L1033.5 833.8 L1027.8 836.4 L1022.1 839.0 L1016.4 841.7 L1010.8 844.3 L1005.3 846.9 L1000.0 849.5 L994.8 852.0 L989.7 854.6 L984.6 857.1 L979.6 859.6 L974.7 862.1 L969.8 864.7 L964.8 867.2 L959.9 869.8 L955.0 872.4 L950.0 875.0 L945.0 877.7 L940.0 880.3 L935.0 883.1 L930.0 885.8 L925.0 888.5 L920.0 891.3 L915.0 894.1 L910.0 896.9 L905.0 899.7 L900.0 902.5 L895.0 905.3 L890.0 908.2 L885.0 911.1 L880.0 914.0 L875.0 916.9 L870.0 919.8 L865.0 922.7 L860.0 925.6 L855.0 928.6 L850.0 931.5 L845.0 934.4 L840.0 937.4 L835.0 940.3 L830.0 943.2 L825.0 946.2 L820.0 949.1 L815.0 952.1 L810.0 955.0 L805.0 958.0 L800.0 961.0 L795.0 964.0 L790.0 967.0 L785.0 970.0 L780.0 973.0 L775.0 976.0 L770.0 979.0 L765.0 982.1 L760.0 985.2 L755.0 988.3 L750.0 991.5 L744.9 994.8 L739.8 998.1 L734.5 1001.6 L729.3 1005.0 L724.1 1008.5 L718.9 1012.0 L713.9 1015.4 L709.0 1018.7 L704.4 1021.9 L700.0 1025.0 L695.9 1027.9 L692.1 1030.6 L688.6 1033.3 L685.2 1035.8 L681.9 1038.3 L678.6 1040.8 L675.4 1043.3 L672.1 1045.8 L668.6 1048.3 L665.0 1051.0 L661.2 1053.7 L657.4 1056.5 L653.5 1059.3 L649.5 1062.1 L645.5 1065.0 L641.5 1067.9 L637.4 1070.8 L633.3 1073.7 L629.1 1076.6 L625.0 1079.5 L620.8 1082.4 L616.6 1085.4 L612.3 1088.4 L608.0 1091.4 L603.6 1094.4 L599.3 1097.4 L594.9 1100.4 L590.6 1103.4 L586.3 1106.5 L582.0 1109.5 L577.8 1112.5 L573.5 1115.6 L569.3 1118.6 L565.0 1121.6 L560.8 1124.7 L556.6 1127.7 L552.4 1130.8 L548.3 1133.8 L544.1 1136.9 L540.0 1140.0 L535.9 1143.1 L531.9 1146.1 L528.0 1149.0 L524.0 1152.0 L520.1 1155.0 L516.2 1158.1 L512.2 1161.2 L508.2 1164.5 L504.2 1167.9 L500.0 1171.5 L495.8 1175.3 L491.4 1179.2 L487.1 1183.3 L482.7 1187.5 L478.2 1191.8 L473.8 1196.2 L469.3 1200.5 L464.8 1204.9 L460.4 1209.2 L456.0 1213.5 L451.6 1217.7 L447.3 1222.0 L442.9 1226.2 L438.6 1230.5 L434.2 1234.7 L429.9 1239.0 L425.5 1243.2 L421.2 1247.5 L416.8 1251.7 L412.5 1256.0 L392.2 1235.3 L396.6 1231.1 L401.0 1226.9 L405.4 1222.7 L409.9 1218.6 L414.3 1214.4 L418.7 1210.2 L423.1 1206.0 L427.6 1201.8 L432.1 1197.6 L436.5 1193.4 L440.9 1189.2 L445.4 1185.0 L449.9 1180.7 L454.5 1176.4 L459.1 1172.1 L463.7 1167.8 L468.3 1163.5 L473.0 1159.3 L477.6 1155.2 L482.2 1151.2 L486.5 1147.2 L490.8 1143.4 L494.9 1139.7 L499.0 1136.2 L503.0 1132.9 L507.0 1129.6 L510.9 1126.4 L514.8 1123.2 L518.6 1120.1 L522.6 1116.8 L526.8 1113.8 L531.2 1110.7 L535.5 1107.7 L539.9 1104.7 L544.3 1101.7 L548.6 1098.8 L553.0 1095.8 L557.3 1092.9 L561.7 1090.0 L566.1 1087.1 L570.5 1084.1 L575.0 1081.2 L579.5 1078.2 L583.9 1075.3 L588.4 1072.4 L592.8 1069.5 L597.2 1066.6 L601.6 1063.8 L605.8 1061.0 L610.0 1058.2 L614.2 1055.4 L618.4 1052.7 L622.6 1049.9 L626.7 1047.1 L630.8 1044.4 L634.9 1041.6 L638.9 1039.0 L642.8 1036.3 L646.7 1033.6 L650.5 1031.1 L654.0 1028.6 L657.4 1026.2 L660.7 1023.9 L664.0 1021.5 L667.3 1019.1 L670.7 1016.7 L674.3 1014.1 L678.1 1011.5 L682.2 1008.7 L686.5 1005.8 L691.0 1002.6 L695.8 999.4 L700.7 996.0 L705.8 992.6 L711.0 989.1 L716.3 985.6 L721.7 982.1 L727.0 978.6 L732.3 975.2 L737.5 971.9 L742.6 968.7 L747.7 965.5 L752.9 962.4 L757.9 959.3 L763.0 956.2 L768.1 953.2 L773.1 950.2 L778.2 947.2 L783.2 944.2 L788.2 941.3 L793.2 938.3 L798.3 935.4 L803.4 932.5 L808.5 929.6 L813.5 926.7 L818.6 923.8 L823.6 920.9 L828.7 918.0 L833.7 915.2 L838.8 912.3 L843.8 909.4 L848.8 906.6 L853.9 903.7 L858.9 900.8 L864.0 898.0 L869.1 895.1 L874.1 892.3 L879.2 889.4 L884.3 886.6 L889.4 883.8 L894.5 881.0 L899.6 878.2 L904.6 875.5 L909.7 872.8 L914.8 870.0 L919.9 867.3 L925.0 864.6 L930.1 862.0 L935.2 859.3 L940.3 856.7 L945.3 854.1 L950.4 851.5 L955.4 849.0 L960.4 846.5 L965.4 844.0 L970.5 841.5 L975.6 839.0 L980.7 836.5 L985.9 834.0 L991.3 831.5 L996.7 828.9 L1002.3 826.3 L1008.0 823.7 L1013.8 821.1 L1019.6 818.5 L1025.3 815.9 L1030.9 813.4 L1036.5 811.0 L1041.8 808.6 L1047.0 806.3 L1051.9 804.1 L1056.8 801.9 L1061.5 799.9 L1066.1 797.8 L1070.7 795.9 L1075.2 793.9 L1079.6 792.0 L1083.9 790.2 L1088.2 788.3 L1092.5 786.5 L1096.6 784.8 L1100.6 783.1 L1104.6 781.5 L1108.5 779.9 L1112.4 778.2 L1116.4 776.7 L1120.4 775.1 L1124.4 773.5 L1128.6 772.0 L1132.8 770.5 L1137.2 769.1 L1141.5 767.7 L1146.0 766.3 L1150.4 765.0 L1154.9 763.7 L1159.3 762.5 L1163.7 761.3 L1168.1 760.2 L1172.4 759.1 L1176.7 758.1 L1181.1 757.3 L1185.2 756.7 L1189.1 756.2 L1192.8 755.9 L1196.3 755.5 L1199.7 755.2 L1203.2 754.8 L1206.8 754.4 L1210.7 753.8 L1215.1 753.0 L1219.8 751.7 L1224.9 750.2 L1230.4 748.6 L1236.2 746.8 L1242.2 744.8 L1248.4 742.9 L1254.7 740.9 L1261.1 739.0 L1267.6 737.1 L1273.9 735.3 L1280.2 733.6 L1286.6 731.9 L1293.0 730.3 L1299.5 728.6 L1306.1 727.0 L1312.7 725.5 L1319.3 723.9 L1325.9 722.5 L1332.5 721.1 L1339.1 719.8 L1345.7 718.6 L1352.3 717.4 L1358.8 716.4 L1365.4 715.4 L1371.9 714.4 L1378.4 713.5 L1384.9 712.7 L1391.3 711.9 L1397.7 711.1 L1404.2 710.3 L1410.6 709.5 L1417.1 708.8 L1423.6 708.0 L1430.0 707.4 L1436.5 706.7 L1443.0 706.1 L1449.4 705.5 L1455.9 704.9 L1462.4 704.4 L1468.9 703.9 L1475.3 703.4 L1481.8 703.0 L1488.3 702.6 L1494.8 702.2 L1501.2 701.9 L1507.7 701.6 L1514.1 701.3 L1520.6 701.0 L1527.0 700.8 L1533.4 700.5 L1539.9 700.3 L1546.4 700.1 L1552.8 700.0 L1559.3 699.8 L1565.7 699.7 L1572.1 699.6 L1578.5 699.5 L1585.0 699.5 L1591.4 699.4 L1597.8 699.3 L1604.2 699.3 L1610.5 699.2 L1616.9 699.2 L1623.2 699.1 L1629.5 699.1 L1635.9 699.1 L1642.3 699.1 L1648.8 699.1 L1655.3 699.1 L1662.0 699.1 L1668.8 699.2 L1675.7 699.3 L1682.6 699.3 L1689.7 699.4 L1696.7 699.5 L1703.8 699.6 L1710.9 699.7 L1718.0 699.8 L1725.1 699.9 L1732.1 700.0Z" fill="#9b978c" fill-opacity="0.92"/>
<path d="M2268.5 867.0 C2249.7 870.0 2232.1 874.1 2212.0 876.0 C2191.9 877.9 2170.4 879.0 2148.0 878.5 C2125.6 878.0 2096.2 875.0 2077.5 872.7 C2058.8 870.4 2050.9 868.8 2036.0 864.7 C2021.1 860.6 2004.0 854.5 1988.0 848.0 C1972.0 841.5 1956.0 834.5 1940.0 826.0 C1924.0 817.5 1903.7 804.7 1892.0 797.0 C1880.3 789.3 1874.7 784.0 1869.6 780.0 C1864.5 776.0 1865.0 776.0 1861.3 773.0 C1857.6 770.0 1852.1 765.9 1847.4 762.0 C1842.8 758.1 1838.1 754.1 1833.4 749.7 C1828.8 745.3 1824.1 740.4 1819.5 735.8 C1814.9 731.2 1810.2 725.7 1805.6 722.0 C1801.0 718.3 1797.2 715.4 1791.7 713.5 C1786.2 711.6 1782.2 710.7 1772.3 710.7 C1762.3 710.7 1745.4 712.6 1732.0 713.5" fill="none" stroke="#9a968b" stroke-opacity="0.8" stroke-width="13"/>
<path d="M2283.0 656.0 C2259.3 653.5 2234.5 652.4 2212.0 648.5 C2189.5 644.6 2169.3 639.0 2148.0 632.7 C2126.7 626.4 2098.7 615.8 2084.0 610.5 C2069.3 605.2 2066.5 603.7 2060.0 601.0 C2053.5 598.3 2052.4 597.7 2045.0 594.5 C2037.6 591.3 2025.5 585.7 2015.8 582.0 C2006.1 578.3 1996.3 574.5 1986.6 572.2 C1976.9 569.9 1965.5 568.8 1957.4 568.3 C1949.3 567.8 1946.0 567.8 1937.9 569.3 C1929.8 570.8 1916.8 573.4 1908.7 577.1 C1900.6 580.8 1894.8 586.6 1889.2 591.7 C1883.6 596.8 1881.0 600.5 1875.2 607.8 C1869.4 615.1 1860.5 626.3 1854.3 635.6 C1848.1 644.9 1842.3 656.0 1838.0 663.4 C1833.7 670.8 1830.6 675.8 1828.5 680.0 C1826.4 684.2 1825.5 685.8 1825.2 688.5 C1825.0 691.2 1825.6 693.7 1827.0 696.5 C1828.4 699.3 1831.3 702.3 1833.4 705.2" fill="none" stroke="#9a968b" stroke-opacity="0.8" stroke-width="11"/>
<path d="M2275.5 331.7 C2254.3 339.5 2227.8 348.9 2212.0 355.0 C2196.2 361.1 2191.1 363.2 2180.4 368.0 C2169.7 372.8 2158.1 378.5 2148.0 384.0 C2137.9 389.5 2129.7 395.0 2120.0 401.0 C2110.3 407.0 2100.0 413.3 2090.0 420.0 C2080.0 426.7 2070.0 434.1 2060.0 441.0 C2050.0 447.9 2040.0 454.2 2030.0 461.7 C2020.0 469.2 2007.2 479.8 2000.0 486.0 C1992.8 492.2 1991.3 494.9 1986.6 499.2 C1981.9 503.5 1976.9 507.8 1972.0 512.0 C1967.1 516.2 1961.3 521.2 1957.4 524.5 C1953.5 527.8 1950.6 529.8 1948.5 532.0 C1946.4 534.2 1945.4 535.9 1945.0 537.5 C1944.6 539.1 1945.1 540.5 1946.0 541.5 C1946.9 542.5 1948.2 543.0 1950.5 543.8 C1952.8 544.6 1956.8 545.6 1960.0 546.5" fill="none" stroke="#9a968b" stroke-opacity="0.8" stroke-width="10"/>
<path d="M2285.5 493.0 C2261.0 497.0 2234.9 499.5 2212.0 505.0 C2189.1 510.5 2166.7 518.6 2148.0 526.0 C2129.3 533.4 2111.7 542.8 2100.0 549.5 C2088.3 556.2 2083.2 562.2 2078.0 566.0 C2072.8 569.8 2071.0 570.8 2069.0 572.5 C2067.0 574.2 2066.2 574.8 2066.0 576.0 C2065.8 577.2 2066.2 578.5 2067.5 580.0 C2068.8 581.5 2071.8 583.3 2074.0 585.0" fill="none" stroke="#9a968b" stroke-opacity="0.8" stroke-width="7"/>
<path d="M569.5 869.5 C571.5 880.8 573.9 891.4 575.5 903.5 C577.1 915.6 578.2 930.6 579.0 942.0 C579.8 953.4 580.1 961.8 580.0 972.0 C579.9 982.2 579.2 992.8 578.5 1003.0 C577.8 1013.2 576.5 1025.2 576.0 1033.0 C575.5 1040.8 575.7 1044.0 575.5 1049.5" fill="none" stroke="#9a968b" stroke-opacity="0.8" stroke-width="9"/>
<path d="M767.0 701.0 C770.3 712.7 773.6 722.2 777.0 736.0 C780.4 749.8 785.2 768.0 787.5 784.0 C789.8 800.0 790.5 816.0 790.5 832.0 C790.5 848.0 788.2 866.3 787.5 880.0 C786.8 893.7 786.8 902.7 786.5 914.0" fill="none" stroke="#9a968b" stroke-opacity="0.8" stroke-width="9"/>
<path d="M996.0 529.6 C994.3 550.4 994.2 568.3 991.0 592.0 C987.8 615.7 982.9 645.3 976.5 672.0 C970.1 698.7 960.9 728.0 952.5 752.0 C944.1 776.0 933.1 799.7 926.0 816.0 C918.9 832.3 915.3 838.7 910.0 850.0" fill="none" stroke="#9a968b" stroke-opacity="0.8" stroke-width="9"/>
<path d="M1329.0 459.0 C1326.8 471.3 1326.8 479.2 1322.5 496.0 C1318.2 512.8 1311.2 538.7 1303.0 560.0 C1294.8 581.3 1283.7 602.7 1273.0 624.0 C1262.3 645.3 1248.7 669.9 1239.0 688.0 C1229.3 706.1 1223.0 717.8 1215.0 732.7" fill="none" stroke="#9a968b" stroke-opacity="0.8" stroke-width="9"/>
<path d="M1748.0 454.0 C1743.8 465.9 1742.9 474.6 1735.5 489.6 C1728.1 504.6 1715.8 524.8 1703.5 544.0 C1691.2 563.2 1675.3 586.5 1662.0 604.7 C1648.7 623.0 1634.8 640.1 1623.5 653.5 C1612.2 666.9 1603.8 674.5 1594.0 685.0" fill="none" stroke="#9a968b" stroke-opacity="0.8" stroke-width="8"/>
    </g>
    <path d="M1732.0 713.5 C1708.7 713.3 1684.3 713.0 1662.0 713.0 C1639.7 713.0 1619.3 713.2 1598.0 713.5 C1576.7 713.8 1555.3 714.2 1534.0 715.0 C1512.7 715.8 1491.3 716.8 1470.0 718.5 C1448.7 720.2 1427.3 722.3 1406.0 725.0 C1384.7 727.7 1363.3 730.3 1342.0 734.5 C1320.7 738.7 1298.5 744.4 1278.0 750.0 C1257.5 755.6 1235.2 763.8 1219.0 768.0 C1202.8 772.2 1194.3 772.2 1181.0 775.5 C1167.7 778.8 1152.5 783.2 1139.0 788.0 C1125.5 792.8 1114.0 798.0 1100.0 804.0 C1086.0 810.0 1071.7 816.4 1055.0 824.0 C1038.3 831.6 1017.5 841.0 1000.0 849.5 C982.5 858.0 966.7 866.2 950.0 875.0 C933.3 883.8 916.7 893.1 900.0 902.5 C883.3 911.9 866.7 921.8 850.0 931.5 C833.3 941.2 816.7 951.0 800.0 961.0 C783.3 971.0 766.7 980.8 750.0 991.5 C733.3 1002.2 714.2 1015.1 700.0 1025.0 C685.8 1034.9 677.5 1041.9 665.0 1051.0 C652.5 1060.1 638.8 1069.8 625.0 1079.5 C611.2 1089.2 596.2 1099.4 582.0 1109.5 C567.8 1119.6 553.7 1129.7 540.0 1140.0 C526.3 1150.3 514.0 1159.2 500.0 1171.5 C486.0 1183.8 470.6 1199.4 456.0 1213.5 C441.4 1227.6 427.0 1241.8 412.5 1256.0" fill="none" stroke="#5f5a4f" stroke-opacity="0.45" stroke-width="9" filter="url(#b2)"/>
    <path d="M1732.0 713.5 C1708.7 713.3 1684.3 713.0 1662.0 713.0 C1639.7 713.0 1619.3 713.2 1598.0 713.5 C1576.7 713.8 1555.3 714.2 1534.0 715.0 C1512.7 715.8 1491.3 716.8 1470.0 718.5 C1448.7 720.2 1427.3 722.3 1406.0 725.0 C1384.7 727.7 1363.3 730.3 1342.0 734.5 C1320.7 738.7 1298.5 744.4 1278.0 750.0 C1257.5 755.6 1235.2 763.8 1219.0 768.0 C1202.8 772.2 1194.3 772.2 1181.0 775.5 C1167.7 778.8 1152.5 783.2 1139.0 788.0 C1125.5 792.8 1114.0 798.0 1100.0 804.0 C1086.0 810.0 1071.7 816.4 1055.0 824.0 C1038.3 831.6 1017.5 841.0 1000.0 849.5 C982.5 858.0 966.7 866.2 950.0 875.0 C933.3 883.8 916.7 893.1 900.0 902.5 C883.3 911.9 866.7 921.8 850.0 931.5 C833.3 941.2 816.7 951.0 800.0 961.0 C783.3 971.0 766.7 980.8 750.0 991.5 C733.3 1002.2 714.2 1015.1 700.0 1025.0 C685.8 1034.9 677.5 1041.9 665.0 1051.0 C652.5 1060.1 638.8 1069.8 625.0 1079.5 C611.2 1089.2 596.2 1099.4 582.0 1109.5 C567.8 1119.6 553.7 1129.7 540.0 1140.0 C526.3 1150.3 514.0 1159.2 500.0 1171.5 C486.0 1183.8 470.6 1199.4 456.0 1213.5 C441.4 1227.6 427.0 1241.8 412.5 1256.0 M2268.5 867.0 C2249.7 870.0 2232.1 874.1 2212.0 876.0 C2191.9 877.9 2170.4 879.0 2148.0 878.5 C2125.6 878.0 2096.2 875.0 2077.5 872.7 C2058.8 870.4 2050.9 868.8 2036.0 864.7 C2021.1 860.6 2004.0 854.5 1988.0 848.0 C1972.0 841.5 1956.0 834.5 1940.0 826.0 C1924.0 817.5 1903.7 804.7 1892.0 797.0 C1880.3 789.3 1874.7 784.0 1869.6 780.0 C1864.5 776.0 1865.0 776.0 1861.3 773.0 C1857.6 770.0 1852.1 765.9 1847.4 762.0 C1842.8 758.1 1838.1 754.1 1833.4 749.7 C1828.8 745.3 1824.1 740.4 1819.5 735.8 C1814.9 731.2 1810.2 725.7 1805.6 722.0 C1801.0 718.3 1797.2 715.4 1791.7 713.5 C1786.2 711.6 1782.2 710.7 1772.3 710.7 C1762.3 710.7 1745.4 712.6 1732.0 713.5 M2283.0 656.0 C2259.3 653.5 2234.5 652.4 2212.0 648.5 C2189.5 644.6 2169.3 639.0 2148.0 632.7 C2126.7 626.4 2098.7 615.8 2084.0 610.5 C2069.3 605.2 2066.5 603.7 2060.0 601.0 C2053.5 598.3 2052.4 597.7 2045.0 594.5 C2037.6 591.3 2025.5 585.7 2015.8 582.0 C2006.1 578.3 1996.3 574.5 1986.6 572.2 C1976.9 569.9 1965.5 568.8 1957.4 568.3 C1949.3 567.8 1946.0 567.8 1937.9 569.3 C1929.8 570.8 1916.8 573.4 1908.7 577.1 C1900.6 580.8 1894.8 586.6 1889.2 591.7 C1883.6 596.8 1881.0 600.5 1875.2 607.8 C1869.4 615.1 1860.5 626.3 1854.3 635.6 C1848.1 644.9 1842.3 656.0 1838.0 663.4 C1833.7 670.8 1830.6 675.8 1828.5 680.0 C1826.4 684.2 1825.5 685.8 1825.2 688.5 C1825.0 691.2 1825.6 693.7 1827.0 696.5 C1828.4 699.3 1831.3 702.3 1833.4 705.2 M2275.5 331.7 C2254.3 339.5 2227.8 348.9 2212.0 355.0 C2196.2 361.1 2191.1 363.2 2180.4 368.0 C2169.7 372.8 2158.1 378.5 2148.0 384.0 C2137.9 389.5 2129.7 395.0 2120.0 401.0 C2110.3 407.0 2100.0 413.3 2090.0 420.0 C2080.0 426.7 2070.0 434.1 2060.0 441.0 C2050.0 447.9 2040.0 454.2 2030.0 461.7 C2020.0 469.2 2007.2 479.8 2000.0 486.0 C1992.8 492.2 1991.3 494.9 1986.6 499.2 C1981.9 503.5 1976.9 507.8 1972.0 512.0 C1967.1 516.2 1961.3 521.2 1957.4 524.5 C1953.5 527.8 1950.6 529.8 1948.5 532.0 C1946.4 534.2 1945.4 535.9 1945.0 537.5 C1944.6 539.1 1945.1 540.5 1946.0 541.5 C1946.9 542.5 1948.2 543.0 1950.5 543.8 C1952.8 544.6 1956.8 545.6 1960.0 546.5 M2285.5 493.0 C2261.0 497.0 2234.9 499.5 2212.0 505.0 C2189.1 510.5 2166.7 518.6 2148.0 526.0 C2129.3 533.4 2111.7 542.8 2100.0 549.5 C2088.3 556.2 2083.2 562.2 2078.0 566.0 C2072.8 569.8 2071.0 570.8 2069.0 572.5 C2067.0 574.2 2066.2 574.8 2066.0 576.0 C2065.8 577.2 2066.2 578.5 2067.5 580.0 C2068.8 581.5 2071.8 583.3 2074.0 585.0 M569.5 869.5 C571.5 880.8 573.9 891.4 575.5 903.5 C577.1 915.6 578.2 930.6 579.0 942.0 C579.8 953.4 580.1 961.8 580.0 972.0 C579.9 982.2 579.2 992.8 578.5 1003.0 C577.8 1013.2 576.5 1025.2 576.0 1033.0 C575.5 1040.8 575.7 1044.0 575.5 1049.5 M767.0 701.0 C770.3 712.7 773.6 722.2 777.0 736.0 C780.4 749.8 785.2 768.0 787.5 784.0 C789.8 800.0 790.5 816.0 790.5 832.0 C790.5 848.0 788.2 866.3 787.5 880.0 C786.8 893.7 786.8 902.7 786.5 914.0 M996.0 529.6 C994.3 550.4 994.2 568.3 991.0 592.0 C987.8 615.7 982.9 645.3 976.5 672.0 C970.1 698.7 960.9 728.0 952.5 752.0 C944.1 776.0 933.1 799.7 926.0 816.0 C918.9 832.3 915.3 838.7 910.0 850.0 M1329.0 459.0 C1326.8 471.3 1326.8 479.2 1322.5 496.0 C1318.2 512.8 1311.2 538.7 1303.0 560.0 C1294.8 581.3 1283.7 602.7 1273.0 624.0 C1262.3 645.3 1248.7 669.9 1239.0 688.0 C1229.3 706.1 1223.0 717.8 1215.0 732.7 M1748.0 454.0 C1743.8 465.9 1742.9 474.6 1735.5 489.6 C1728.1 504.6 1715.8 524.8 1703.5 544.0 C1691.2 563.2 1675.3 586.5 1662.0 604.7 C1648.7 623.0 1634.8 640.1 1623.5 653.5 C1612.2 666.9 1603.8 674.5 1594.0 685.0" fill="none" stroke="#5f5a4f" stroke-opacity="0.22" stroke-width="6" filter="url(#b2)"/>
    <g fill="none" stroke="#37332e" stroke-opacity="0.9" stroke-linecap="round">
<path d="M1732.2 690.3 L1725.2 690.2 L1718.1 690.0 L1711.0 689.9 L1703.9 689.8 L1696.8 689.7 L1689.8 689.5 L1682.7 689.4 L1675.7 689.3 L1668.8 689.2 L1662.0 689.2 L1655.3 689.1 L1648.7 689.1 L1642.2 689.0 L1635.8 689.0 L1629.4 689.0 L1623.1 689.0 L1616.7 689.0 L1610.4 689.0 L1604.0 689.1 L1597.6 689.1 L1591.2 689.2 L1584.8 689.2 L1578.4 689.3 L1571.9 689.3 L1565.5 689.4 L1559.0 689.5 L1552.5 689.6 L1546.0 689.7 L1539.5 689.9 L1533.0 690.1 L1526.6 690.3 L1520.1 690.5 L1513.7 690.8 L1507.2 691.1 L1500.7 691.4 L1494.2 691.7 L1487.7 692.1 L1481.1 692.5 L1474.6 692.9 L1468.0 693.3 L1461.5 693.8 L1455.0 694.4 L1448.5 694.9 L1442.0 695.5 L1435.4 696.1 L1428.9 696.8 L1422.4 697.5 L1415.9 698.2 L1409.4 698.9 L1402.9 699.7 L1396.4 700.5 L1390.0 701.2 L1383.5 702.1 L1376.9 702.9 L1370.4 703.8 L1363.8 704.7 L1357.1 705.7 L1350.5 706.8 L1343.8 707.9 L1337.1 709.2 L1330.3 710.5 L1323.6 711.9 L1316.8 713.4 L1310.1 714.9 L1303.5 716.4 L1296.8 718.1 L1290.3 719.7 L1283.8 721.4 L1277.4 723.0 L1271.0 724.7 L1264.5 726.5 L1257.9 728.4 L1251.4 730.4 L1245.0 732.4 L1238.8 734.3 L1232.8 736.2 L1227.1 738.0 L1221.7 739.6 L1216.7 741.0 L1212.2 742.2 L1208.1 742.7 L1204.5 743.0 L1201.0 743.3 L1197.7 743.4 L1194.3 743.6 L1190.8 743.8 L1187.0 744.0 L1182.8 744.4 L1178.3 744.9 L1173.7 745.5 L1169.2 746.5 L1164.7 747.6 L1160.3 748.7 L1155.7 749.9 L1151.2 751.1 L1146.6 752.4 L1142.0 753.7 L1137.4 755.1 L1132.9 756.5 L1128.4 758.0 L1124.0 759.5 L1119.6 761.0 L1115.4 762.6 L1111.2 764.2 L1107.2 765.8 L1103.2 767.4 L1099.2 769.0 L1095.2 770.7 L1091.2 772.3 L1087.1 774.0 L1082.8 775.8 L1078.4 777.6 L1074.0 779.4 L1069.6 781.3 L1065.1 783.2 L1060.5 785.2 L1055.8 787.2 L1051.0 789.3 L1046.1 791.4 L1041.2 793.5 L1036.0 795.8 L1030.6 798.1 L1025.1 800.6 L1019.4 803.1 L1013.6 805.6 L1007.8 808.2 L1002.0 810.8 L996.2 813.4 L990.5 816.0 L985.0 818.5 L979.6 821.0 L974.3 823.5 L969.0 826.0 L963.9 828.4 L958.7 830.9 L953.6 833.4 L948.6 835.9 L943.5 838.4 L938.4 840.9 L933.3 843.5 L928.1 846.1 L922.9 848.7 L917.8 851.4 L912.6 854.0 L907.5 856.7 L902.3 859.4 L897.2 862.1 L892.0 864.8 L886.9 867.6 L881.8 870.3 L876.6 873.1 L871.5 875.9 L866.3 878.7 L861.2 881.5 L856.1 884.4 L851.0 887.2 L845.9 890.0 L840.8 892.8 L835.7 895.7 L830.7 898.5 L825.6 901.3 L820.5 904.1 L815.4 906.9 L810.4 909.8 L805.3 912.6 L800.1 915.5 L795.0 918.4 L789.9 921.2 L784.8 924.2 L779.7 927.1 L774.7 930.0 L769.6 933.0 L764.6 935.9 L759.5 938.9 L754.4 942.0 L749.3 945.0 L744.1 948.2 L738.9 951.3 L733.7 954.5 L728.5 957.8 L723.2 961.2 L717.8 964.6 L712.4 968.1 L707.0 971.6 L701.7 975.1 L696.4 978.7 L691.2 982.1 L686.2 985.5 L681.4 988.8 L676.8 991.9 L672.3 994.8 L668.0 997.6 L664.0 1000.3 L660.3 1002.9 L656.8 1005.3 L653.4 1007.7 L650.1 1009.9 L646.8 1012.2 L643.5 1014.4 L640.0 1016.7 L636.2 1019.2 L632.3 1021.7 L628.4 1024.3 L624.3 1026.9 L620.3 1029.5 L616.1 1032.2 L612.0 1034.8 L607.7 1037.5 L603.5 1040.2 L599.3 1042.9 L595.0 1045.6 L590.7 1048.3 L586.4 1051.0 L581.9 1053.8 L577.4 1056.5 L572.9 1059.4 L568.3 1062.2 L563.7 1065.1 L559.1 1068.0 L554.6 1070.9 L550.1 1073.8 L545.7 1076.6 L541.3 1079.5 L536.8 1082.3 L532.3 1085.3 L527.9 1088.2 L523.4 1091.1 L518.9 1094.1 L514.4 1097.2 L510.0 1100.1 L506.2 1103.5 L502.4 1106.8 L498.5 1110.1 L494.6 1113.4 L490.7 1116.9 L486.6 1120.5 L482.4 1124.3 L478.2 1128.2 L473.9 1132.3 L469.4 1136.6 L464.5 1140.7 L459.7 1144.9 L454.8 1149.2 L450.0 1153.5 L445.3 1157.9 L440.6 1162.2 L436.0 1166.5 L431.4 1170.7 L426.9 1174.9 L422.5 1178.9 L418.0 1183.0 L413.4 1187.2 L408.9 1191.4 L404.4 1195.6 L399.9 1199.7 L395.4 1203.9 L391.0 1208.0 L386.5 1212.1 L382.1 1216.2 L377.6 1220.4" stroke-width="1.3" stroke-dasharray="95 60 140 210 60 180 120 90" stroke-dashoffset="10"/>
<path d="M1732.1 699.5 L1725.1 699.4 L1718.0 699.3 L1710.9 699.2 L1703.8 699.1 L1696.7 699.0 L1689.7 698.9 L1682.7 698.8 L1675.7 698.7 L1668.8 698.6 L1662.0 698.6 L1655.3 698.6 L1648.8 698.5 L1642.3 698.5 L1635.9 698.5 L1629.5 698.5 L1623.2 698.6 L1616.8 698.6 L1610.5 698.6 L1604.2 698.7 L1597.8 698.8 L1591.4 698.8 L1585.0 698.9 L1578.5 699.0 L1572.1 699.1 L1565.7 699.2 L1559.2 699.3 L1552.8 699.4 L1546.3 699.6 L1539.9 699.7 L1533.4 699.9 L1527.0 700.2 L1520.5 700.4 L1514.1 700.7 L1507.7 701.0 L1501.2 701.3 L1494.7 701.6 L1488.3 702.0 L1481.8 702.4 L1475.3 702.8 L1468.8 703.3 L1462.3 703.8 L1455.9 704.3 L1449.4 704.9 L1442.9 705.5 L1436.5 706.1 L1430.0 706.8 L1423.5 707.5 L1417.0 708.2 L1410.6 708.9 L1404.1 709.7 L1397.7 710.5 L1391.2 711.3 L1384.8 712.1 L1378.3 712.9 L1371.8 713.8 L1365.3 714.8 L1358.7 715.8 L1352.2 716.8 L1345.6 718.0 L1339.0 719.2 L1332.4 720.5 L1325.8 721.9 L1319.1 723.3 L1312.5 724.9 L1305.9 726.4 L1299.4 728.1 L1292.9 729.7 L1286.4 731.4 L1280.1 733.0 L1273.8 734.7 L1267.4 736.5 L1260.9 738.4 L1254.5 740.3 L1248.2 742.3 L1242.0 744.3 L1236.0 746.2 L1230.2 748.0 L1224.7 749.6 L1219.6 751.1 L1214.9 752.4 L1210.6 753.2 L1206.7 753.7 L1203.1 754.2 L1199.6 754.5 L1196.2 754.9 L1192.6 755.2 L1189.0 755.6 L1185.1 756.0 L1180.9 756.6 L1176.6 757.4 L1172.2 758.4 L1167.9 759.5 L1163.6 760.6 L1159.1 761.8 L1154.7 763.0 L1150.2 764.3 L1145.8 765.6 L1141.3 767.0 L1136.9 768.4 L1132.6 769.8 L1128.3 771.3 L1124.2 772.8 L1120.1 774.4 L1116.1 776.0 L1112.1 777.6 L1108.2 779.2 L1104.3 780.8 L1100.3 782.5 L1096.3 784.1 L1092.2 785.9 L1087.9 787.6 L1083.6 789.5 L1079.3 791.3 L1074.8 793.2 L1070.4 795.2 L1065.8 797.1 L1061.2 799.2 L1056.4 801.2 L1051.6 803.4 L1046.6 805.6 L1041.5 807.9 L1036.1 810.2 L1030.6 812.7 L1025.0 815.2 L1019.2 817.8 L1013.5 820.4 L1007.7 823.0 L1002.0 825.6 L996.4 828.2 L990.9 830.8 L985.6 833.3 L980.4 835.8 L975.2 838.3 L970.1 840.8 L965.0 843.3 L960.0 845.8 L955.0 848.3 L950.0 850.8 L945.0 853.3 L939.9 855.9 L934.8 858.6 L929.7 861.2 L924.6 863.9 L919.5 866.6 L914.4 869.3 L909.3 872.0 L904.2 874.8 L899.1 877.5 L894.1 880.3 L889.0 883.0 L883.9 885.8 L878.8 888.7 L873.7 891.5 L868.6 894.4 L863.6 897.2 L858.5 900.1 L853.4 902.9 L848.4 905.8 L843.3 908.7 L838.3 911.5 L833.3 914.4 L828.2 917.2 L823.2 920.1 L818.1 923.0 L813.1 925.9 L808.0 928.8 L802.9 931.7 L797.9 934.6 L792.8 937.5 L787.7 940.5 L782.7 943.5 L777.7 946.4 L772.7 949.4 L767.6 952.4 L762.5 955.4 L757.5 958.5 L752.4 961.6 L747.2 964.7 L742.1 967.9 L737.0 971.1 L731.8 974.4 L726.5 977.8 L721.2 981.3 L715.8 984.8 L710.5 988.3 L705.3 991.8 L700.2 995.3 L695.2 998.6 L690.5 1001.9 L686.0 1005.0 L681.6 1007.9 L677.5 1010.7 L673.7 1013.3 L670.1 1015.9 L666.7 1018.4 L663.4 1020.8 L660.1 1023.1 L656.8 1025.4 L653.4 1027.8 L649.9 1030.3 L646.1 1032.8 L642.2 1035.5 L638.3 1038.1 L634.3 1040.8 L630.2 1043.5 L626.1 1046.3 L622.0 1049.0 L617.8 1051.8 L613.6 1054.6 L609.4 1057.4 L605.2 1060.2 L600.9 1063.0 L596.6 1065.8 L592.2 1068.6 L587.8 1071.5 L583.3 1074.4 L578.8 1077.3 L574.3 1080.3 L569.9 1083.2 L565.4 1086.2 L561.1 1089.1 L556.7 1092.0 L552.3 1094.9 L548.0 1097.9 L543.6 1100.8 L539.2 1103.8 L534.9 1106.8 L530.5 1109.8 L526.1 1112.9 L521.9 1115.9 L517.9 1119.1 L514.1 1122.3 L510.2 1125.5 L506.3 1128.7 L502.3 1132.0 L498.3 1135.4 L494.2 1138.9 L490.1 1142.5 L485.8 1146.4 L481.5 1150.4 L476.9 1154.4 L472.2 1158.5 L467.6 1162.7 L462.9 1167.0 L458.3 1171.3 L453.7 1175.6 L449.1 1180.0 L444.6 1184.2 L440.2 1188.4 L435.7 1192.6 L431.3 1196.8 L426.8 1201.0 L422.4 1205.2 L417.9 1209.4 L413.5 1213.6 L409.1 1217.7 L404.6 1221.9 L400.2 1226.1 L395.8 1230.3 L391.4 1234.4" stroke-width="1.5" stroke-dasharray="120 35 70 150 160 45 90 200" stroke-dashoffset="70"/>
<path d="M1732.1 705.4 L1725.0 705.3 L1718.0 705.2 L1710.9 705.2 L1703.8 705.1 L1696.7 705.0 L1689.6 704.9 L1682.6 704.8 L1675.7 704.8 L1668.8 704.7 L1662.0 704.7 L1655.3 704.7 L1648.8 704.7 L1642.3 704.7 L1635.9 704.7 L1629.6 704.7 L1623.2 704.8 L1616.9 704.8 L1610.6 704.9 L1604.3 704.9 L1597.9 705.0 L1591.5 705.1 L1585.1 705.2 L1578.6 705.3 L1572.2 705.3 L1565.8 705.5 L1559.4 705.6 L1553.0 705.7 L1546.5 705.9 L1540.1 706.1 L1533.7 706.3 L1527.2 706.6 L1520.8 706.8 L1514.4 707.1 L1508.0 707.4 L1501.5 707.7 L1495.1 708.0 L1488.7 708.4 L1482.2 708.8 L1475.8 709.3 L1469.3 709.7 L1462.9 710.2 L1456.4 710.8 L1450.0 711.3 L1443.5 711.9 L1437.1 712.6 L1430.7 713.2 L1424.2 713.9 L1417.8 714.6 L1411.3 715.4 L1404.9 716.2 L1398.5 717.0 L1392.1 717.8 L1385.6 718.6 L1379.2 719.4 L1372.7 720.3 L1366.3 721.3 L1359.8 722.3 L1353.3 723.3 L1346.8 724.4 L1340.3 725.7 L1333.7 727.0 L1327.2 728.4 L1320.6 729.8 L1314.1 731.3 L1307.5 732.9 L1301.0 734.5 L1294.5 736.2 L1288.1 737.8 L1281.8 739.5 L1275.6 741.2 L1269.3 742.9 L1262.9 744.8 L1256.5 746.8 L1250.2 748.7 L1244.1 750.7 L1238.0 752.6 L1232.2 754.5 L1226.7 756.2 L1221.5 757.7 L1216.6 759.0 L1212.2 759.9 L1208.1 760.7 L1204.4 761.2 L1200.8 761.7 L1197.3 762.2 L1193.8 762.6 L1190.3 763.0 L1186.5 763.6 L1182.6 764.2 L1178.4 765.0 L1174.2 766.1 L1170.0 767.1 L1165.7 768.3 L1161.3 769.5 L1157.0 770.7 L1152.6 772.0 L1148.2 773.3 L1143.8 774.7 L1139.5 776.1 L1135.3 777.5 L1131.2 779.0 L1127.1 780.5 L1123.1 782.0 L1119.2 783.6 L1115.3 785.2 L1111.5 786.8 L1107.6 788.4 L1103.6 790.1 L1099.6 791.8 L1095.5 793.5 L1091.3 795.3 L1087.0 797.2 L1082.6 799.0 L1078.3 800.9 L1073.8 802.9 L1069.3 804.9 L1064.7 806.9 L1060.0 809.0 L1055.1 811.2 L1050.2 813.4 L1045.0 815.7 L1039.7 818.1 L1034.2 820.5 L1028.6 823.1 L1022.9 825.7 L1017.1 828.3 L1011.4 830.9 L1005.7 833.5 L1000.2 836.1 L994.8 838.7 L989.5 841.2 L984.3 843.7 L979.2 846.2 L974.1 848.7 L969.1 851.2 L964.1 853.7 L959.2 856.3 L954.2 858.8 L949.2 861.4 L944.2 864.0 L939.1 866.6 L934.0 869.3 L929.0 872.0 L923.9 874.7 L918.9 877.4 L913.8 880.2 L908.8 882.9 L903.7 885.7 L898.7 888.5 L893.6 891.3 L888.6 894.1 L883.5 896.9 L878.5 899.8 L873.4 902.7 L868.4 905.5 L863.4 908.4 L858.3 911.3 L853.3 914.2 L848.3 917.1 L843.3 920.0 L838.2 922.9 L833.2 925.8 L828.2 928.6 L823.1 931.6 L818.1 934.5 L813.1 937.4 L808.0 940.3 L803.0 943.2 L797.9 946.2 L792.9 949.2 L787.9 952.1 L782.9 955.1 L777.9 958.1 L772.9 961.1 L767.8 964.1 L762.8 967.2 L757.7 970.3 L752.6 973.4 L747.6 976.5 L742.5 979.7 L737.3 983.0 L732.1 986.4 L726.8 989.9 L721.5 993.4 L716.2 996.9 L711.1 1000.4 L706.0 1003.8 L701.1 1007.1 L696.4 1010.4 L691.9 1013.5 L687.7 1016.4 L683.7 1019.1 L680.0 1021.8 L676.5 1024.3 L673.1 1026.8 L669.8 1029.2 L666.6 1031.6 L663.3 1034.0 L659.9 1036.5 L656.3 1039.0 L652.5 1041.7 L648.6 1044.4 L644.7 1047.1 L640.7 1049.8 L636.7 1052.6 L632.6 1055.4 L628.5 1058.2 L624.4 1061.1 L620.2 1063.9 L616.0 1066.7 L611.8 1069.6 L607.6 1072.4 L603.2 1075.3 L598.9 1078.2 L594.5 1081.2 L590.1 1084.1 L585.6 1087.1 L581.2 1090.1 L576.8 1093.1 L572.4 1096.0 L568.1 1099.0 L563.8 1102.0 L559.5 1104.9 L555.2 1107.9 L550.9 1110.9 L546.6 1113.9 L542.3 1116.9 L538.0 1120.0 L533.7 1123.0 L529.5 1126.1 L525.5 1129.3 L521.6 1132.4 L517.7 1135.4 L513.8 1138.6 L509.8 1141.7 L505.9 1145.0 L501.8 1148.3 L497.7 1151.8 L493.6 1155.5 L489.3 1159.3 L484.9 1163.2 L480.4 1167.2 L475.8 1171.4 L471.3 1175.7 L466.7 1180.0 L462.2 1184.3 L457.7 1188.7 L453.2 1193.0 L448.7 1197.2 L444.3 1201.4 L439.9 1205.6 L435.5 1209.8 L431.1 1214.1 L426.6 1218.3 L422.3 1222.5 L417.9 1226.7 L413.5 1230.9 L409.1 1235.2 L404.7 1239.4 L400.3 1243.6" stroke-width="1.4" stroke-dasharray="60 90 130 40 100 170 80 55" stroke-dashoffset="0"/>
<path d="M1732.0 709.2 L1725.0 709.1 L1717.9 709.0 L1710.9 709.0 L1703.8 708.9 L1696.7 708.8 L1689.6 708.7 L1682.6 708.7 L1675.6 708.6 L1668.8 708.6 L1662.0 708.6 L1655.4 708.6 L1648.8 708.6 L1642.3 708.6 L1635.9 708.6 L1629.6 708.6 L1623.3 708.7 L1617.0 708.7 L1610.6 708.8 L1604.3 708.9 L1597.9 709.0 L1591.5 709.1 L1585.1 709.1 L1578.7 709.2 L1572.3 709.4 L1565.9 709.5 L1559.5 709.6 L1553.1 709.8 L1546.7 709.9 L1540.2 710.1 L1533.8 710.4 L1527.4 710.6 L1521.0 710.9 L1514.6 711.2 L1508.2 711.5 L1501.8 711.8 L1495.3 712.1 L1488.9 712.5 L1482.5 712.9 L1476.1 713.3 L1469.6 713.8 L1463.2 714.3 L1456.8 714.9 L1450.4 715.4 L1443.9 716.0 L1437.5 716.7 L1431.1 717.3 L1424.7 718.0 L1418.3 718.8 L1411.8 719.5 L1405.4 720.3 L1399.0 721.1 L1392.6 721.9 L1386.2 722.7 L1379.8 723.6 L1373.3 724.5 L1366.9 725.4 L1360.4 726.4 L1354.0 727.4 L1347.5 728.6 L1341.1 729.8 L1334.6 731.1 L1328.1 732.5 L1321.6 733.9 L1315.0 735.4 L1308.5 737.0 L1302.0 738.6 L1295.6 740.3 L1289.2 741.9 L1282.9 743.6 L1276.7 745.3 L1270.4 747.0 L1264.1 748.9 L1257.8 750.9 L1251.5 752.8 L1245.4 754.8 L1239.3 756.7 L1233.5 758.6 L1227.9 760.3 L1222.7 761.9 L1217.7 763.2 L1213.2 764.2 L1209.1 765.1 L1205.2 765.7 L1201.6 766.3 L1198.1 766.8 L1194.6 767.3 L1191.1 767.8 L1187.5 768.4 L1183.7 769.1 L1179.6 769.9 L1175.5 770.9 L1171.3 772.0 L1167.0 773.2 L1162.7 774.4 L1158.4 775.6 L1154.1 776.9 L1149.7 778.2 L1145.4 779.6 L1141.2 781.0 L1137.0 782.4 L1133.0 783.9 L1129.0 785.4 L1125.1 786.9 L1121.2 788.4 L1117.4 790.0 L1113.5 791.6 L1109.7 793.3 L1105.7 794.9 L1101.7 796.7 L1097.6 798.4 L1093.4 800.2 L1089.1 802.1 L1084.8 803.9 L1080.4 805.8 L1076.0 807.8 L1071.5 809.8 L1066.9 811.8 L1062.2 813.9 L1057.4 816.1 L1052.4 818.3 L1047.3 820.6 L1042.0 823.1 L1036.5 825.5 L1030.9 828.1 L1025.2 830.7 L1019.5 833.3 L1013.8 835.9 L1008.1 838.6 L1002.6 841.2 L997.2 843.7 L992.0 846.3 L986.8 848.8 L981.7 851.3 L976.7 853.8 L971.7 856.3 L966.8 858.8 L961.8 861.4 L956.9 863.9 L951.9 866.5 L946.9 869.1 L941.9 871.8 L936.8 874.5 L931.8 877.2 L926.8 879.9 L921.7 882.6 L916.7 885.4 L911.7 888.1 L906.7 890.9 L901.6 893.7 L896.6 896.5 L891.6 899.3 L886.6 902.2 L881.5 905.1 L876.5 907.9 L871.5 910.8 L866.5 913.7 L861.4 916.6 L856.4 919.5 L851.4 922.4 L846.4 925.4 L841.4 928.3 L836.4 931.2 L831.4 934.1 L826.3 937.0 L821.3 939.9 L816.3 942.8 L811.3 945.8 L806.3 948.7 L801.2 951.7 L796.2 954.7 L791.2 957.7 L786.2 960.7 L781.2 963.6 L776.2 966.7 L771.2 969.7 L766.1 972.7 L761.1 975.8 L756.1 978.9 L751.0 982.0 L746.0 985.2 L740.9 988.5 L735.7 991.9 L730.4 995.3 L725.1 998.8 L719.9 1002.3 L714.7 1005.8 L709.7 1009.2 L704.8 1012.5 L700.1 1015.8 L695.7 1018.8 L691.5 1021.7 L687.6 1024.5 L684.0 1027.1 L680.5 1029.7 L677.2 1032.2 L673.9 1034.6 L670.7 1037.1 L667.4 1039.5 L664.0 1042.0 L660.3 1044.6 L656.6 1047.3 L652.7 1050.0 L648.8 1052.8 L644.8 1055.6 L640.8 1058.4 L636.7 1061.2 L632.6 1064.1 L628.5 1066.9 L624.4 1069.8 L620.2 1072.7 L616.0 1075.6 L611.8 1078.5 L607.5 1081.4 L603.1 1084.4 L598.7 1087.3 L594.4 1090.3 L590.0 1093.3 L585.6 1096.3 L581.2 1099.3 L576.9 1102.3 L572.6 1105.3 L568.3 1108.3 L564.1 1111.3 L559.8 1114.3 L555.5 1117.3 L551.3 1120.4 L547.0 1123.4 L542.8 1126.4 L538.6 1129.5 L534.4 1132.6 L530.4 1135.7 L526.4 1138.8 L522.5 1141.8 L518.6 1144.8 L514.6 1147.9 L510.7 1151.1 L506.7 1154.4 L502.6 1157.7 L498.5 1161.3 L494.3 1165.0 L489.9 1168.8 L485.5 1172.8 L481.1 1177.0 L476.6 1181.2 L472.1 1185.5 L467.6 1189.8 L463.1 1194.2 L458.6 1198.5 L454.2 1202.8 L449.8 1207.1 L445.4 1211.3 L441.0 1215.5 L436.6 1219.7 L432.2 1224.0 L427.8 1228.2 L423.5 1232.4 L419.1 1236.7 L414.7 1240.9 L410.4 1245.1 L406.0 1249.4" stroke-width="1.2" stroke-dasharray="150 120 80 200 110 60" stroke-dashoffset="130"/>
<path d="M569.6 1110.1 L565.4 1113.1 L561.1 1116.1 L556.8 1119.2 L552.6 1122.2 L548.4 1125.2 L544.2 1128.3 L540.0 1131.4 L535.8 1134.4 L531.8 1137.5 L527.8 1140.6 L523.9 1143.6 L519.9 1146.6 L516.0 1149.7 L512.1 1152.9 L508.1 1156.1 L504.0 1159.4 L499.9 1162.9 L495.7 1166.6 L491.4 1170.4 L487.0 1174.4 L482.6 1178.6 L478.1 1182.8 L473.6 1187.1 L469.1 1191.4 L464.6 1195.8 L460.2 1200.1 L455.7 1204.4 L451.3 1208.7 L446.9 1212.9 L442.5 1217.1 L438.2 1221.4 L433.8 1225.6 L429.4 1229.8 L425.1 1234.1 L420.7 1238.3" stroke-width="1.5" stroke-dasharray="170 8 95 10" stroke-dashoffset="0"/>
<path d="M540.1 1122.8 L535.8 1125.8 L531.6 1128.9 L527.6 1132.0 L523.7 1135.1 L519.8 1138.2 L515.8 1141.3 L511.9 1144.4 L507.9 1147.6 L503.9 1150.9 L499.8 1154.4 L495.7 1158.0 L491.5 1161.8 L487.0 1165.6 L482.6 1169.6 L478.1 1173.8 L473.6 1178.0 L469.0 1182.3 L464.5 1186.7 L460.0 1191.0 L455.5 1195.4 L451.1 1199.6 L446.6 1203.8 L442.2 1208.0 L437.8 1212.3 L433.4 1216.5 L429.0 1220.7" stroke-width="1.5" stroke-dasharray="193 13 112 10" stroke-dashoffset="47"/>
<path d="M548.2 1107.2 L543.9 1110.2 L539.6 1113.3 L535.3 1116.3 L531.0 1119.3 L526.7 1122.4 L522.8 1125.6 L518.9 1128.7 L515.0 1131.8 L511.1 1135.0 L507.1 1138.2 L503.1 1141.5 L499.1 1144.9 L495.0 1148.5 L490.8 1152.2 L486.5 1156.1 L482.0 1160.0 L477.4 1164.1 L472.8 1168.2 L468.3 1172.5 L463.7 1176.8 L459.1 1181.2 L454.6 1185.5 L450.1 1189.8 L445.6 1194.0 L441.2 1198.2 L436.8 1202.4 L432.3 1206.6 L427.9 1210.8 L423.5 1215.0 L419.1 1219.2 L414.7 1223.5" stroke-width="1.5" stroke-dasharray="176 12 99 10" stroke-dashoffset="94"/>
<path d="M557.3 1092.9 L553.0 1095.8 L548.6 1098.8 L544.3 1101.7 L539.9 1104.7 L535.5 1107.7 L531.2 1110.7 L526.8 1113.8 L522.6 1116.8 L518.6 1120.1 L514.8 1123.2 L510.9 1126.4 L507.0 1129.6 L503.0 1132.9 L499.0 1136.2 L494.9 1139.7 L490.8 1143.4 L486.5 1147.2 L482.2 1151.2 L477.6 1155.2 L473.0 1159.3 L468.3 1163.5 L463.7 1167.8 L459.1 1172.1 L454.5 1176.4 L449.9 1180.7 L445.4 1185.0 L440.9 1189.2 L436.5 1193.4 L432.1 1197.6 L427.6 1201.8 L423.1 1206.0 L418.7 1210.2 L414.3 1214.4 L409.9 1218.6 L405.4 1222.7" stroke-width="1.5" stroke-dasharray="199 11 116 10" stroke-dashoffset="21"/>
<path d="M527.1 1105.2 L522.7 1108.3 L518.4 1111.3 L514.5 1114.5 L510.6 1117.7 L506.8 1120.9 L502.9 1124.2 L498.9 1127.6 L494.9 1131.0 L490.8 1134.6 L486.6 1138.3 L482.3 1142.2 L477.9 1146.3 L473.2 1150.3 L468.5 1154.5 L463.8 1158.7 L459.1 1163.0 L454.5 1167.3 L449.8 1171.7 L445.3 1176.0 L440.7 1180.3 L436.3 1184.4 L431.8 1188.6 L427.4 1192.7 L422.9 1196.9 L418.4 1201.1 L413.9 1205.3" stroke-width="1.5" stroke-dasharray="182 10 103 10" stroke-dashoffset="68"/>
<path d="M536.3 1090.8 L531.9 1093.7 L527.4 1096.7 L523.0 1099.7 L518.5 1102.7 L514.2 1105.7 L510.3 1109.0 L506.5 1112.2 L502.7 1115.5 L498.7 1118.8 L494.8 1122.2 L490.7 1125.8 L486.6 1129.4 L482.4 1133.2 L478.1 1137.2 L473.7 1141.4 L468.9 1145.5 L464.1 1149.7 L459.3 1154.0 L454.6 1158.3 L449.9 1162.6 L445.2 1166.9 L440.6 1171.2 L436.1 1175.5 L431.6 1179.6 L427.2 1183.7 L422.7 1187.9 L418.2 1192.1 L413.7 1196.2 L409.2 1200.4 L404.7 1204.6 L400.2 1208.8" stroke-width="1.5" stroke-dasharray="205 9 120 10" stroke-dashoffset="115"/>
<path d="M545.1 1075.7 L540.6 1078.6 L536.1 1081.4 L531.7 1084.3 L527.2 1087.3 L522.7 1090.2 L518.2 1093.2 L513.7 1096.2 L509.3 1099.2 L505.5 1102.6 L501.7 1105.8 L497.9 1109.2 L494.0 1112.5 L490.0 1116.0 L485.9 1119.6 L481.8 1123.4 L477.5 1127.3 L473.1 1131.4 L468.7 1135.8 L463.8 1139.9 L458.9 1144.1 L454.1 1148.4 L449.3 1152.7 L444.5 1157.1 L439.8 1161.4 L435.2 1165.7 L430.6 1169.9 L426.1 1174.1 L421.7 1178.1 L417.2 1182.2 L412.7 1186.4 L408.1 1190.6 L403.6 1194.7 L399.1 1198.9 L394.6 1203.0 L390.2 1207.2" stroke-width="1.5" stroke-dasharray="188 8 107 10" stroke-dashoffset="42"/>
<path d="M576.0 963.3 L576.0 966.1 L576.0 969.0 L576.0 972.0 L576.0 975.0 L575.9 978.0 L575.8 981.1 L575.6 984.2 L575.5 987.3 L575.3 990.4 L575.1 993.5 L574.9 996.6 L574.7 999.7 L574.5 1002.7 L574.3 1005.8 L574.0 1009.0 L573.8 1012.2 L573.5 1015.4 L573.2 1018.5 L572.9 1021.7 L572.6 1024.7 L572.4 1027.5 L572.2 1030.2 L572.0 1032.7 L571.9 1035.0 L571.8 1037.0 L571.7 1038.8 L571.7 1040.5 L571.6 1042.0 L571.6 1043.5 L571.6 1044.9 L571.6 1046.4 L571.5 1047.8" stroke-width="1.3"/>
<path d="M571.1 984.0 L571.0 987.0 L570.8 990.1 L570.6 993.2 L570.4 996.3 L570.2 999.4 L570.0 1002.4 L569.8 1005.5 L569.6 1008.6 L569.3 1011.8 L569.0 1015.0 L568.7 1018.1 L568.4 1021.3 L568.2 1024.3 L567.9 1027.2 L567.7 1029.9 L567.5 1032.4 L567.4 1034.7 L567.3 1036.8 L567.2 1038.7 L567.2 1040.4 L567.1 1041.9 L567.1 1043.4 L567.1 1044.9 L567.1 1046.3 L567.0 1047.7" stroke-width="1.3"/>
<path d="M784.7 794.0 L785.2 798.8 L785.5 803.5 L785.9 808.2 L786.1 813.0 L786.3 817.7 L786.4 822.5 L786.5 827.2 L786.5 832.0 L786.4 836.8 L786.3 841.6 L786.0 846.6 L785.6 851.6 L785.3 856.6 L784.9 861.5 L784.5 866.3 L784.1 871.0 L783.8 875.5 L783.5 879.8 L783.3 883.8 L783.2 887.5 L783.1 891.1 L783.0 894.5 L782.9 897.8 L782.8 901.0 L782.7 904.2 L782.7 907.3 L782.6 910.6" stroke-width="1.3"/>
<path d="M782.4 822.6 L782.5 827.3 L782.5 832.0 L782.4 836.7 L782.3 841.5 L782.0 846.4 L781.7 851.3 L781.3 856.2 L780.9 861.1 L780.5 866.0 L780.1 870.7 L779.8 875.2 L779.5 879.6 L779.3 883.6 L779.2 887.4 L779.1 891.0 L779.0 894.4 L778.9 897.7 L778.8 900.9 L778.7 904.1 L778.7 907.2 L778.6 910.5" stroke-width="1.3"/>
<path d="M968.5 687.2 L966.2 695.4 L963.9 703.6 L961.4 711.8 L958.9 720.0 L956.4 727.9 L953.8 735.8 L951.3 743.4 L948.7 750.7 L946.2 757.8 L943.5 764.9 L940.7 771.8 L937.9 778.7 L935.1 785.3 L932.3 791.7 L929.6 797.9 L927.0 803.8 L924.6 809.3 L922.3 814.4 L920.3 819.0 L918.5 823.1 L916.8 826.7 L915.2 830.0 L913.7 833.1 L912.3 836.1 L910.9 839.0 L909.4 841.9 L907.9 845.0" stroke-width="1.3"/>
<path d="M950.0 734.5 L947.5 742.1 L945.0 749.3 L942.4 756.4 L939.7 763.4 L937.0 770.3 L934.2 777.1 L931.4 783.7 L928.6 790.1 L925.9 796.3 L923.3 802.1 L920.9 807.7 L918.7 812.8 L916.7 817.4 L914.8 821.4 L913.2 825.0 L911.6 828.3 L910.1 831.4 L908.7 834.3 L907.3 837.2 L905.8 840.2 L904.3 843.3" stroke-width="1.3"/>
<path d="M1294.1 571.2 L1291.3 577.6 L1288.3 583.9 L1285.3 590.3 L1282.2 596.6 L1279.0 603.0 L1275.8 609.4 L1272.6 615.8 L1269.4 622.2 L1266.2 628.7 L1262.7 635.3 L1259.2 641.9 L1255.7 648.6 L1252.1 655.3 L1248.6 661.9 L1245.1 668.3 L1241.7 674.5 L1238.5 680.5 L1235.5 686.1 L1232.7 691.4 L1230.0 696.3 L1227.5 700.9 L1225.2 705.4 L1222.9 709.7 L1220.6 713.9 L1218.4 718.0 L1216.1 722.2 L1213.8 726.4" stroke-width="1.3"/>
<path d="M1272.3 607.6 L1269.1 614.0 L1265.9 620.4 L1262.6 626.8 L1259.2 633.4 L1255.7 640.1 L1252.2 646.8 L1248.6 653.4 L1245.0 660.0 L1241.6 666.4 L1238.2 672.6 L1235.0 678.6 L1231.9 684.2 L1229.1 689.5 L1226.5 694.4 L1224.0 699.0 L1221.6 703.5 L1219.3 707.8 L1217.1 712.0 L1214.8 716.1 L1212.6 720.3 L1210.3 724.5" stroke-width="1.3"/>
<path d="M1692.8 554.0 L1688.7 560.2 L1684.5 566.4 L1680.3 572.7 L1676.0 579.0 L1671.7 585.2 L1667.4 591.2 L1663.2 597.0 L1659.2 602.6 L1655.2 608.1 L1651.2 613.4 L1647.2 618.6 L1643.2 623.8 L1639.3 628.8 L1635.4 633.6 L1631.6 638.3 L1627.9 642.8 L1624.3 647.1 L1620.8 651.2 L1617.6 655.0 L1614.4 658.6 L1611.4 661.8 L1608.5 664.9 L1605.7 667.9 L1602.9 670.8 L1600.1 673.6 L1597.2 676.5 L1594.4 679.5" stroke-width="1.3"/>
<path d="M1664.6 589.2 L1660.4 595.0 L1656.3 600.6 L1652.4 606.0 L1648.4 611.3 L1644.4 616.5 L1640.4 621.6 L1636.5 626.6 L1632.7 631.4 L1628.9 636.1 L1625.2 640.6 L1621.6 644.9 L1618.2 649.0 L1614.9 652.7 L1611.8 656.2 L1608.9 659.5 L1606.0 662.5 L1603.2 665.5 L1600.4 668.3 L1597.6 671.2 L1594.7 674.1 L1591.8 677.1" stroke-width="1.3"/>
<path d="M1986.6 494.3 L1985.5 495.4 L1984.2 496.6 L1982.8 497.9 L1981.4 499.2 L1980.0 500.5 L1978.5 501.7 L1977.1 503.0 L1975.6 504.3 L1974.1 505.5 L1972.7 506.8 L1971.2 508.1 L1969.7 509.4 L1968.2 510.6 L1966.7 511.9 L1965.2 513.3 L1963.6 514.6 L1962.1 515.9 L1960.6 517.2 L1959.1 518.5 L1957.7 519.7 L1956.4 520.8 L1955.1 521.8 L1954.0 522.8 L1953.0 523.6 L1952.0 524.5 L1951.0 525.2 L1950.1 526.0 L1949.2 526.7 L1948.3 527.4 L1947.5 528.1 L1946.7 528.8 L1946.0 529.6 L1945.3 530.3 L1944.7 531.0 L1944.1 531.7 L1943.6 532.4 L1943.2 533.1 L1942.8 533.8 L1942.4 534.5 L1942.1 535.2 L1941.8 535.9 L1941.6 536.6 L1941.4 537.4 L1941.4 538.3 L1941.4 539.1 L1941.5 539.9 L1941.6 540.6 L1941.9 541.4 L1942.2 542.0 L1942.5 542.7 L1942.9 543.3 L1943.4 543.8 L1943.9 544.3 L1944.4 544.8 L1945.0 545.2 L1945.6 545.6 L1946.2 545.9 L1946.8 546.2 L1947.4 546.4 L1948.0 546.6 L1948.6 546.9 L1949.4 547.1 L1950.2 547.4 L1951.1 547.7 L1952.0 547.9 L1953.0 548.2 L1954.0 548.5 L1955.1 548.8 L1956.1 549.1 L1957.1 549.3 L1958.1 549.6 L1959.1 549.9" stroke-width="1.2" stroke-dasharray="70 30 110 45 50 80" stroke-dashoffset="0"/>
<path d="M1910.0 572.8 L1907.2 573.9 L1904.7 575.2 L1902.3 576.6 L1900.0 578.0 L1897.8 579.6 L1895.8 581.2 L1893.9 582.8 L1892.0 584.4 L1890.2 586.0 L1888.5 587.6 L1886.8 589.1 L1885.2 590.7 L1883.7 592.2 L1882.2 593.7 L1880.9 595.2 L1879.6 596.7 L1878.3 598.2 L1877.0 599.9 L1875.6 601.6 L1874.1 603.5 L1872.5 605.6 L1870.6 607.9 L1868.6 610.4 L1866.5 613.1 L1864.3 615.9 L1862.1 618.8 L1859.9 621.8 L1857.6 624.8 L1855.5 627.8 L1853.4 630.8 L1851.4 633.7 L1849.5 636.5 L1847.7 639.5 L1845.8 642.5 L1844.1 645.5 L1842.4 648.5 L1840.8 651.4 L1839.2 654.2 L1837.7 656.8 L1836.3 659.3 L1835.0 661.6 L1833.7 663.8 L1832.5 665.8 L1831.4 667.7 L1830.4 669.5 L1829.4 671.1 L1828.5 672.7 L1827.6 674.2 L1826.8 675.7 L1826.1 677.1 L1825.4 678.4 L1824.8 679.6 L1824.2 680.6 L1823.8 681.6 L1823.3 682.5 L1822.9 683.4 L1822.6 684.3 L1822.3 685.3 L1822.0 686.2 L1821.8 687.2 L1821.7 688.2 L1821.7 689.2 L1821.7 690.3 L1821.7 691.3 L1821.9 692.3 L1822.1 693.3 L1822.3 694.3 L1822.7 695.2 L1823.0 696.2 L1823.4 697.1 L1823.9 698.1 L1824.4 699.1 L1825.1 700.1 L1825.7 701.1 L1826.4 702.0 L1827.2 703.0 L1827.9 703.9 L1828.6 704.8 L1829.3 705.6 L1830.0 706.5 L1830.6 707.3" stroke-width="1.2" stroke-dasharray="70 30 110 45 50 80" stroke-dashoffset="0"/>
<path d="M1908.7 569.5 L1905.8 570.7 L1903.0 572.1 L1900.5 573.6 L1898.0 575.1 L1895.8 576.8 L1893.6 578.4 L1891.6 580.1 L1889.7 581.8 L1887.9 583.4 L1886.1 585.0 L1884.4 586.6 L1882.7 588.2 L1881.2 589.7 L1879.7 591.3 L1878.3 592.8 L1876.9 594.4 L1875.6 596.0 L1874.3 597.7 L1872.9 599.5 L1871.4 601.4 L1869.7 603.5 L1867.9 605.8 L1865.9 608.3 L1863.8 611.0 L1861.6 613.8 L1859.3 616.7 L1857.1 619.7 L1854.8 622.7 L1852.6 625.8 L1850.5 628.8 L1848.5 631.7 L1846.6 634.7 L1844.7 637.7 L1842.8 640.7 L1841.1 643.8 L1839.4 646.7 L1837.7 649.7 L1836.1 652.5 L1834.6 655.1 L1833.2 657.6 L1831.9 659.9 L1830.7 662.0 L1829.5 664.0 L1828.4 665.9 L1827.4 667.7 L1826.4 669.4 L1825.5 671.0 L1824.6 672.5 L1823.8 674.0 L1823.0 675.4 L1822.3 676.8 L1821.7 678.0 L1821.1 679.1 L1820.6 680.1 L1820.1 681.1 L1819.7 682.1 L1819.3 683.2 L1818.9 684.3 L1818.6 685.4 L1818.4 686.7 L1818.2 687.9 L1818.2 689.1 L1818.2 690.4 L1818.3 691.7 L1818.4 692.9 L1818.7 694.1 L1819.0 695.3 L1819.4 696.4 L1819.8 697.5 L1820.2 698.5 L1820.8 699.7 L1821.4 700.9 L1822.1 702.0 L1822.9 703.1 L1823.7 704.2 L1824.4 705.2 L1825.2 706.1 L1825.9 707.0 L1826.6 707.8 L1827.2 708.6 L1827.8 709.4" stroke-width="1.2" stroke-dasharray="70 30 110 45 50 80" stroke-dashoffset="20"/>
<path d="M2267.8 863.1 L2262.2 864.0 L2256.6 865.0 L2251.1 866.0 L2245.5 867.0 L2240.0 868.0 L2234.5 868.9 L2228.9 869.8 L2223.2 870.7 L2217.5 871.4 L2211.6 872.0 L2205.6 872.6 L2199.5 873.1 L2193.3 873.5 L2187.0 873.9 L2180.7 874.2 L2174.3 874.4 L2167.8 874.6 L2161.3 874.6 L2154.7 874.6 L2148.1 874.5 L2141.3 874.3 L2134.1 873.9 L2126.7 873.4 L2119.2 872.9 L2111.7 872.3 L2104.3 871.6 L2097.1 870.9 L2090.3 870.2 L2083.9 869.4 L2078.0 868.7 L2072.7 868.1 L2068.0 867.4 L2063.7 866.8 L2059.8 866.1 L2056.1 865.5 L2052.5 864.7 L2048.9 863.9 L2045.2 863.0 L2041.3 862.0 L2037.1 860.8 L2032.6 859.6 L2028.0 858.2 L2023.3 856.7 L2018.5 855.1 L2013.7 853.5 L2008.9 851.7 L2004.0 849.9 L1999.1 848.1 L1994.3 846.2 L1989.5 844.3 L1984.7 842.3 L1980.0 840.4 L1975.2 838.3 L1970.4 836.3 L1965.7 834.1 L1960.9 831.9 L1956.1 829.7 L1951.4 827.4 L1946.6 824.9 L1941.9 822.5 L1937.0 819.8 L1932.0 817.0 L1926.8 814.0 L1921.6 810.9 L1916.5 807.8 L1911.5 804.7 L1906.7 801.7 L1902.1 798.8 L1897.9 796.1 L1894.2 793.7 L1890.9 791.5 L1888.0 789.4 L1885.3 787.5 L1883.0 785.7 L1880.8 784.0 L1878.8 782.4 L1877.0 780.9 L1875.3 779.5 L1873.7 778.1 L1872.1 776.9 L1870.7 775.8 L1869.7 774.9 L1868.8 774.2 L1868.2 773.7 L1867.6 773.1 L1867.0 772.6 L1866.4 772.1 L1865.7 771.5" stroke-width="1.2" stroke-dasharray="70 30 110 45 50 80" stroke-dashoffset="0"/>
<path d="M2267.2 859.1 L2261.5 860.0 L2255.9 861.0 L2250.4 862.0 L2244.8 863.0 L2239.3 864.0 L2233.8 865.0 L2228.3 865.9 L2222.7 866.7 L2217.0 867.4 L2211.2 868.0 L2205.2 868.6 L2199.2 869.1 L2193.0 869.5 L2186.8 869.9 L2180.5 870.2 L2174.2 870.4 L2167.8 870.6 L2161.3 870.6 L2154.8 870.6 L2148.2 870.5 L2141.4 870.3 L2134.3 869.9 L2127.0 869.5 L2119.5 868.9 L2112.0 868.3 L2104.7 867.6 L2097.5 866.9 L2090.7 866.2 L2084.3 865.5 L2078.5 864.8 L2073.2 864.1 L2068.6 863.5 L2064.4 862.8 L2060.5 862.2 L2056.9 861.5 L2053.4 860.8 L2049.8 860.0 L2046.2 859.1 L2042.3 858.1 L2038.1 857.0 L2033.7 855.7 L2029.2 854.4 L2024.5 852.9 L2019.8 851.3 L2015.1 849.7 L2010.2 848.0 L2005.4 846.2 L2000.6 844.3 L1995.8 842.5 L1991.0 840.6 L1986.2 838.6 L1981.5 836.7 L1976.8 834.7 L1972.0 832.6 L1967.3 830.5 L1962.6 828.3 L1957.9 826.1 L1953.2 823.8 L1948.5 821.4 L1943.8 818.9 L1939.0 816.3 L1934.0 813.5 L1928.8 810.5 L1923.7 807.5 L1918.6 804.4 L1913.6 801.3 L1908.8 798.3 L1904.3 795.4 L1900.1 792.7 L1896.4 790.3 L1893.2 788.2 L1890.3 786.2 L1887.7 784.3 L1885.4 782.5 L1883.3 780.9 L1881.4 779.3 L1879.6 777.8 L1877.9 776.4 L1876.2 775.0 L1874.6 773.7 L1873.2 772.7 L1872.2 771.8 L1871.4 771.2 L1870.8 770.7 L1870.3 770.2 L1869.7 769.7 L1869.1 769.1 L1868.3 768.4" stroke-width="1.2" stroke-dasharray="70 30 110 45 50 80" stroke-dashoffset="20"/>
<path d="M1830.3 707.8 L1831.7 709.4 L1833.0 711.0 L1834.3 712.6 L1835.6 714.1 L1836.9 715.7 L1838.2 717.4 L1839.6 719.1 L1841.1 720.8 L1842.7 722.6 L1844.4 724.6 L1846.2 726.6 L1848.2 728.7 L1850.2 730.9 L1852.3 733.2 L1854.5 735.5 L1856.6 737.8 L1858.8 740.1 L1861.0 742.4 L1863.2 744.7 L1865.3 746.9 L1867.4 749.1 L1869.6 751.2 L1871.7 753.4 L1873.9 755.5 L1876.0 757.7 L1878.1 759.8 L1880.2 761.8 L1882.3 763.9 L1884.3 765.9 L1886.3 767.8 L1888.2 769.8 L1890.1 771.7 L1891.9 773.6 L1893.7 775.4 L1895.6 777.3 L1897.4 779.1 L1899.1 780.9 L1900.9 782.7 L1902.7 784.4 L1904.5 786.0 L1906.1 787.4 L1907.4 788.6 L1908.6 789.8 L1909.8 791.0 L1911.1 792.1 L1912.6 793.4 L1914.4 794.7 L1916.5 796.1 L1919.0 797.7 L1922.0 799.5 L1925.6 801.5 L1929.7 803.8 L1934.2 806.2 L1939.1 808.8 L1944.2 811.4 L1949.5 814.1 L1954.8 816.7 L1960.2 819.3 L1965.4 821.8 L1970.3 824.1 L1975.3 826.4 L1980.5 828.6 L1985.8 830.8 L1991.1 833.0 L1996.3 835.1 L2001.4 837.1" stroke-width="1.2" stroke-dasharray="70 30 110 45 50 80" stroke-dashoffset="0"/>
<path d="M1593.9 689.5 L1600.7 689.7 L1607.5 689.8 L1614.2 690.0 L1621.0 690.1 L1627.8 690.3 L1634.6 690.4 L1641.4 690.6 L1648.2 690.7 L1655.0 690.9 L1661.9 691.0 L1669.0 691.1 L1676.3 691.3 L1683.8 691.5 L1691.4 691.7 L1698.9 691.9 L1706.3 692.1 L1713.4 692.2 L1720.2 692.2 L1726.5 692.2 L1732.2 692.0 L1737.3 691.7 L1741.9 691.4 L1746.2 691.0 L1750.0 690.5 L1753.6 690.0 L1757.0 689.4 L1760.2 688.7 L1763.2 688.0 L1766.2 687.2 L1769.3 686.3 L1772.3 685.4 L1775.3 684.3 L1778.1 683.2 L1780.8 681.9 L1783.3 680.7 L1785.7 679.4 L1788.0 678.1 L1790.1 676.8 L1792.2 675.5 L1794.1 674.3 L1796.0 673.0 L1797.8 671.8 L1799.4 670.6 L1800.9 669.3 L1802.3 668.1 L1803.7 666.7 L1805.0 665.4 L1806.3 664.0 L1807.6 662.5 L1809.0 660.9 L1810.5 659.2 L1812.0 657.3 L1813.4 655.3 L1814.8 653.3 L1816.3 651.2 L1817.7 649.2 L1819.1 647.1 L1820.4 645.0 L1821.8 643.0 L1823.2 641.1 L1824.6 639.1 L1826.0 637.2 L1827.3 635.2 L1828.7 633.2 L1830.1 631.3 L1831.5 629.3 L1832.9 627.4 L1834.3 625.4 L1835.6 623.5 L1837.0 621.7 L1838.4 619.8 L1839.8 617.9 L1841.2 616.1 L1842.6 614.2 L1844.0 612.4 L1845.4 610.6 L1846.8 608.8 L1848.2 607.1 L1849.5 605.5 L1850.8 603.9 L1852.1 602.4 L1853.3 601.1 L1854.4 599.9 L1855.5 598.7 L1856.6 597.5 L1857.7 596.3 L1858.9 595.1 L1860.3 593.7 L1861.7 592.2 L1863.2 590.6 L1865.0 588.8 L1866.8 586.9 L1868.7 584.9 L1870.8 582.8 L1872.8 580.7 L1874.9 578.5 L1877.1 576.3 L1879.1 574.2 L1881.2 572.2 L1883.2 570.2 L1885.1 568.3 L1887.0 566.5 L1888.9 564.7 L1890.7 563.0 L1892.6 561.2 L1894.5 559.4 L1896.4 557.7 L1898.3 555.9 L1900.2 554.1 L1902.1 552.2 L1904.1 550.3 L1906.0 548.4 L1907.9 546.5 L1909.8 544.6 L1911.6 542.7 L1913.5 540.8 L1915.4 538.9 L1917.3 537.0 L1919.2 535.1 L1921.1 533.2 L1923.1 531.3 L1925.0 529.4 L1927.0 527.5 L1929.0 525.6 L1930.9 523.7 L1932.9 521.8" stroke-width="1.2" stroke-dasharray="70 30 110 45 50 80" stroke-dashoffset="0"/>
    </g>
  </g>
  <path d="M380.5 1198.0 C393.7 1188.0 404.6 1179.7 420.0 1168.0 C435.4 1156.3 458.5 1138.5 473.0 1128.0 C487.5 1117.5 498.7 1111.4 507.0 1105.0 C515.3 1098.6 517.2 1099.0 523.0 1089.5 C528.8 1080.0 536.2 1065.6 542.0 1048.0 C547.8 1030.4 554.6 1006.2 558.0 984.0 C561.4 961.8 562.1 934.0 562.5 915.0 C562.9 896.0 561.2 885.0 560.5 870.0 L569.5 869.5 C571.5 880.8 573.9 891.4 575.5 903.5 C577.1 915.6 578.2 930.6 579.0 942.0 C579.8 953.4 580.1 961.8 580.0 972.0 C579.9 982.2 579.2 992.8 578.5 1003.0 C577.8 1013.2 576.5 1025.2 576.0 1033.0 C575.5 1040.8 575.7 1044.0 575.5 1049.5 C590.3 1039.7 604.2 1030.4 620.0 1020.0 C635.8 1009.6 654.7 997.0 670.0 987.0 C685.3 977.0 700.7 967.8 712.0 960.0 C723.3 952.2 731.2 947.0 738.0 940.0 C744.8 933.0 748.7 926.0 753.0 918.0 C757.3 910.0 760.8 903.7 764.0 892.0 C767.2 880.3 770.2 863.3 772.0 848.0 C773.8 832.7 775.5 816.0 775.0 800.0 C774.5 784.0 771.7 768.0 769.0 752.0 C766.3 736.0 762.3 720.0 759.0 704.0 L767.0 701.0 C770.3 712.7 773.6 722.2 777.0 736.0 C780.4 749.8 785.2 768.0 787.5 784.0 C789.8 800.0 790.5 816.0 790.5 832.0 C790.5 848.0 788.2 866.3 787.5 880.0 C786.8 893.7 786.8 902.7 786.5 914.0 C804.7 905.8 827.4 897.8 841.0 889.5 C854.6 881.2 858.2 876.2 868.0 864.0 C877.8 851.8 888.7 837.3 900.0 816.0 C911.3 794.7 925.2 762.7 936.0 736.0 C946.8 709.3 956.9 682.7 964.5 656.0 C972.1 629.3 977.9 597.3 981.5 576.0 C985.1 554.7 984.5 544.0 986.0 528.0 L996.0 529.6 C994.3 550.4 994.2 568.3 991.0 592.0 C987.8 615.7 982.9 645.3 976.5 672.0 C970.1 698.7 960.9 728.0 952.5 752.0 C944.1 776.0 933.1 799.7 926.0 816.0 C918.9 832.3 915.3 838.7 910.0 850.0 C936.0 838.7 959.0 828.1 988.0 816.0 C1017.0 803.9 1057.3 788.3 1084.0 777.5 C1110.7 766.7 1134.7 757.1 1148.0 751.0 C1161.3 744.9 1158.0 746.2 1164.0 741.0 C1170.0 735.8 1176.7 728.8 1184.0 720.0 C1191.3 711.2 1195.9 704.0 1208.0 688.0 C1220.1 672.0 1242.8 645.3 1256.5 624.0 C1270.2 602.7 1280.9 581.3 1290.0 560.0 C1299.1 538.7 1306.1 513.7 1311.0 496.0 C1315.9 478.3 1316.7 468.0 1319.5 454.0 L1329.0 459.0 C1326.8 471.3 1326.8 479.2 1322.5 496.0 C1318.2 512.8 1311.2 538.7 1303.0 560.0 C1294.8 581.3 1283.7 602.7 1273.0 624.0 C1262.3 645.3 1248.7 669.9 1239.0 688.0 C1229.3 706.1 1223.0 717.8 1215.0 732.7 C1236.0 728.8 1256.8 724.8 1278.0 721.0 C1299.2 717.2 1320.7 713.3 1342.0 710.0 C1363.3 706.7 1384.7 703.7 1406.0 701.0 C1427.3 698.3 1449.8 696.2 1470.0 694.0 C1490.2 691.8 1512.6 690.8 1527.5 687.5 C1542.4 684.2 1547.8 681.9 1559.5 674.5 C1571.2 667.1 1583.6 655.8 1598.0 643.0 C1612.4 630.2 1630.0 615.6 1646.0 598.0 C1662.0 580.4 1680.7 556.2 1694.0 537.5 C1707.3 518.8 1718.3 500.4 1726.0 486.0 C1733.7 471.6 1735.3 462.7 1740.0 451.0 L1748.0 454.0 C1743.8 465.9 1742.9 474.6 1735.5 489.6 C1728.1 504.6 1715.8 524.8 1703.5 544.0 C1691.2 563.2 1675.3 586.5 1662.0 604.7 C1648.7 623.0 1634.8 640.1 1623.5 653.5 C1612.2 666.9 1603.8 674.5 1594.0 685.0 C1616.7 685.5 1639.0 686.1 1662.0 686.5 C1685.0 686.9 1714.3 688.2 1732.0 687.5 C1749.7 686.8 1758.0 684.8 1768.0 682.0 C1778.0 679.2 1785.4 674.5 1791.7 670.5 C1798.0 666.5 1801.0 663.3 1805.6 658.0 C1810.2 652.7 1814.9 645.0 1819.5 638.5 C1824.1 632.0 1828.8 625.2 1833.4 619.0 C1838.1 612.8 1843.0 606.2 1847.4 601.0 C1851.8 595.8 1854.6 593.2 1860.0 587.5 C1865.4 581.8 1873.5 573.4 1880.0 567.0 C1886.5 560.6 1892.7 555.2 1899.0 549.0 C1905.3 542.8 1911.5 536.3 1918.0 530.0 C1924.5 523.7 1931.0 517.2 1938.0 511.0 C1945.0 504.8 1953.5 497.7 1960.0 492.5 C1966.5 487.3 1970.3 484.7 1977.0 479.7 C1983.7 474.7 1991.2 468.8 2000.0 462.5 C2008.8 456.2 2020.0 448.5 2030.0 441.7 C2040.0 434.9 2050.0 428.1 2060.0 421.5 C2070.0 414.9 2080.7 407.8 2090.0 402.3 C2099.3 396.8 2101.0 396.0 2116.0 388.5 C2131.0 381.0 2158.7 366.3 2180.0 357.3 C2201.3 348.3 2229.0 339.5 2244.0 334.3 C2259.0 329.1 2261.3 329.0 2270.0 326.3 L2275.5 331.7 C2254.3 339.5 2227.8 348.9 2212.0 355.0 C2196.2 361.1 2191.1 363.2 2180.4 368.0 C2169.7 372.8 2158.1 378.5 2148.0 384.0 C2137.9 389.5 2129.7 395.0 2120.0 401.0 C2110.3 407.0 2100.0 413.3 2090.0 420.0 C2080.0 426.7 2070.0 434.1 2060.0 441.0 C2050.0 447.9 2040.0 454.2 2030.0 461.7 C2020.0 469.2 2007.2 479.8 2000.0 486.0 C1992.8 492.2 1991.3 494.9 1986.6 499.2 C1981.9 503.5 1976.9 507.8 1972.0 512.0 C1967.1 516.2 1961.3 521.2 1957.4 524.5 C1953.5 527.8 1950.6 529.8 1948.5 532.0 C1946.4 534.2 1945.4 535.9 1945.0 537.5 C1944.6 539.1 1945.1 540.5 1946.0 541.5 C1946.9 542.5 1948.2 543.0 1950.5 543.8 C1952.8 544.6 1956.8 545.6 1960.0 546.5 C1965.6 547.9 1969.1 548.9 1976.8 550.8 C1984.5 552.6 1996.3 555.6 2006.0 557.6 C2015.7 559.6 2029.6 561.3 2035.0 562.5 C2040.4 563.7 2037.3 564.2 2038.5 565.0 C2045.7 561.0 2052.4 557.5 2060.0 553.0 C2067.6 548.5 2069.3 544.9 2084.0 538.0 C2098.7 531.1 2126.7 518.7 2148.0 511.5 C2169.3 504.3 2190.7 499.1 2212.0 495.0 C2233.3 490.9 2263.5 487.7 2276.0 486.7 C2288.5 485.7 2283.3 488.2 2287.0 489.0 L2285.5 493.0 C2261.0 497.0 2234.9 499.5 2212.0 505.0 C2189.1 510.5 2166.7 518.6 2148.0 526.0 C2129.3 533.4 2111.7 542.8 2100.0 549.5 C2088.3 556.2 2083.2 562.2 2078.0 566.0 C2072.8 569.8 2071.0 570.8 2069.0 572.5 C2067.0 574.2 2066.2 574.8 2066.0 576.0 C2065.8 577.2 2066.2 578.5 2067.5 580.0 C2068.8 581.5 2071.8 583.3 2074.0 585.0 C2077.3 586.9 2071.7 585.0 2084.0 590.7 C2096.3 596.5 2126.7 611.5 2148.0 619.5 C2169.3 627.5 2190.7 633.6 2212.0 638.7 C2233.3 643.8 2263.8 647.9 2276.0 650.0 C2288.2 652.1 2282.0 651.0 2285.0 651.5 L2283.0 656.0 C2259.3 653.5 2234.5 652.4 2212.0 648.5 C2189.5 644.6 2169.3 639.0 2148.0 632.7 C2126.7 626.4 2098.7 615.8 2084.0 610.5 C2069.3 605.2 2066.5 603.7 2060.0 601.0 C2053.5 598.3 2052.4 597.7 2045.0 594.5 C2037.6 591.3 2025.5 585.7 2015.8 582.0 C2006.1 578.3 1996.3 574.5 1986.6 572.2 C1976.9 569.9 1965.5 568.8 1957.4 568.3 C1949.3 567.8 1946.0 567.8 1937.9 569.3 C1929.8 570.8 1916.8 573.4 1908.7 577.1 C1900.6 580.8 1894.8 586.6 1889.2 591.7 C1883.6 596.8 1881.0 600.5 1875.2 607.8 C1869.4 615.1 1860.5 626.3 1854.3 635.6 C1848.1 644.9 1842.3 656.0 1838.0 663.4 C1833.7 670.8 1830.6 675.8 1828.5 680.0 C1826.4 684.2 1825.5 685.8 1825.2 688.5 C1825.0 691.2 1825.6 693.7 1827.0 696.5 C1828.4 699.3 1831.3 702.3 1833.4 705.2 C1838.1 710.8 1841.6 715.4 1847.4 721.9 C1853.2 728.4 1861.2 736.9 1868.2 744.1 C1875.2 751.3 1882.6 758.5 1889.1 765.0 C1895.6 771.5 1901.4 777.8 1907.2 783.0 C1913.0 788.2 1913.2 789.8 1924.0 796.0 C1934.8 802.2 1956.0 813.2 1972.0 820.5 C1988.0 827.8 2008.8 835.7 2020.0 840.0 C2031.2 844.3 2029.4 843.5 2039.0 846.5 C2048.6 849.5 2059.3 854.8 2077.5 858.0 C2095.7 861.2 2125.6 864.4 2148.0 866.0 C2170.4 867.6 2192.0 867.8 2212.0 867.5 C2232.0 867.2 2249.3 865.2 2268.0 864.0 L2268.5 867.0 C2249.7 870.0 2232.1 874.1 2212.0 876.0 C2191.9 877.9 2170.4 879.0 2148.0 878.5 C2125.6 878.0 2096.2 875.0 2077.5 872.7 C2058.8 870.4 2050.9 868.8 2036.0 864.7 C2021.1 860.6 2004.0 854.5 1988.0 848.0 C1972.0 841.5 1956.0 834.5 1940.0 826.0 C1924.0 817.5 1903.7 804.7 1892.0 797.0 C1880.3 789.3 1874.7 784.0 1869.6 780.0 C1864.5 776.0 1865.0 776.0 1861.3 773.0 C1857.6 770.0 1852.1 765.9 1847.4 762.0 C1842.8 758.1 1838.1 754.1 1833.4 749.7 C1828.8 745.3 1824.1 740.4 1819.5 735.8 C1814.9 731.2 1810.2 725.7 1805.6 722.0 C1801.0 718.3 1797.2 715.4 1791.7 713.5 C1786.2 711.6 1782.2 710.7 1772.3 710.7 C1762.3 710.7 1745.4 712.6 1732.0 713.5 C1708.7 713.3 1684.3 713.0 1662.0 713.0 C1639.7 713.0 1619.3 713.2 1598.0 713.5 C1576.7 713.8 1555.3 714.2 1534.0 715.0 C1512.7 715.8 1491.3 716.8 1470.0 718.5 C1448.7 720.2 1427.3 722.3 1406.0 725.0 C1384.7 727.7 1363.3 730.3 1342.0 734.5 C1320.7 738.7 1298.5 744.4 1278.0 750.0 C1257.5 755.6 1235.2 763.8 1219.0 768.0 C1202.8 772.2 1194.3 772.2 1181.0 775.5 C1167.7 778.8 1152.5 783.2 1139.0 788.0 C1125.5 792.8 1114.0 798.0 1100.0 804.0 C1086.0 810.0 1071.7 816.4 1055.0 824.0 C1038.3 831.6 1017.5 841.0 1000.0 849.5 C982.5 858.0 966.7 866.2 950.0 875.0 C933.3 883.8 916.7 893.1 900.0 902.5 C883.3 911.9 866.7 921.8 850.0 931.5 C833.3 941.2 816.7 951.0 800.0 961.0 C783.3 971.0 766.7 980.8 750.0 991.5 C733.3 1002.2 714.2 1015.1 700.0 1025.0 C685.8 1034.9 677.5 1041.9 665.0 1051.0 C652.5 1060.1 638.8 1069.8 625.0 1079.5 C611.2 1089.2 596.2 1099.4 582.0 1109.5 C567.8 1119.6 553.7 1129.7 540.0 1140.0 C526.3 1150.3 514.0 1159.2 500.0 1171.5 C486.0 1183.8 470.6 1199.4 456.0 1213.5 C441.4 1227.6 427.0 1241.8 412.5 1256.0" fill="none" stroke="#302c28" stroke-width="3.5" stroke-linejoin="round" stroke-linecap="round"/>
  <path d="M380.5 1198.0 C393.7 1188.0 404.6 1179.7 420.0 1168.0 C435.4 1156.3 458.5 1138.5 473.0 1128.0 C487.5 1117.5 498.7 1111.4 507.0 1105.0 C515.3 1098.6 517.7 1094.7 523.0 1089.5 M575.5 1049.5 C590.3 1039.7 604.2 1030.4 620.0 1020.0 C635.8 1009.6 654.7 997.0 670.0 987.0 C685.3 977.0 700.7 967.8 712.0 960.0 C723.3 952.2 729.3 946.7 738.0 940.0 M786.5 914.0 C804.7 905.8 827.4 897.8 841.0 889.5 C854.6 881.2 859.0 872.5 868.0 864.0 M910.0 850.0 C936.0 838.7 959.0 828.1 988.0 816.0 C1017.0 803.9 1057.3 788.3 1084.0 777.5 C1110.7 766.7 1134.7 757.1 1148.0 751.0 C1161.3 744.9 1158.7 744.3 1164.0 741.0 M1215.0 732.7 C1236.0 728.8 1256.8 724.8 1278.0 721.0 C1299.2 717.2 1320.7 713.3 1342.0 710.0 C1363.3 706.7 1384.7 703.7 1406.0 701.0 C1427.3 698.3 1449.8 696.2 1470.0 694.0 C1490.2 691.8 1508.3 689.7 1527.5 687.5 M1594.0 685.0 C1616.7 685.5 1639.0 686.1 1662.0 686.5 C1685.0 686.9 1714.3 688.2 1732.0 687.5 C1749.7 686.8 1756.0 683.8 1768.0 682.0" fill="none" stroke="#302c28" stroke-width="4.6" stroke-linejoin="round" stroke-linecap="round"/>
  <path d="M1768.0 682.0 C1775.9 678.2 1785.4 674.5 1791.7 670.5 C1798.0 666.5 1801.0 663.3 1805.6 658.0 C1810.2 652.7 1814.9 645.0 1819.5 638.5 C1824.1 632.0 1828.8 625.2 1833.4 619.0 C1838.1 612.8 1843.0 606.2 1847.4 601.0 C1851.8 595.8 1854.6 593.2 1860.0 587.5 C1865.4 581.8 1873.5 573.4 1880.0 567.0 C1886.5 560.6 1892.7 555.2 1899.0 549.0 C1905.3 542.8 1911.5 536.3 1918.0 530.0 C1924.5 523.7 1931.3 517.3 1938.0 511.0 M1957.4 568.3 C1950.9 568.6 1946.0 567.8 1937.9 569.3 C1929.8 570.8 1916.8 573.4 1908.7 577.1 C1900.6 580.8 1894.8 586.6 1889.2 591.7 C1883.6 596.8 1881.0 600.5 1875.2 607.8 C1869.4 615.1 1860.5 626.3 1854.3 635.6 C1848.1 644.9 1842.3 656.0 1838.0 663.4 C1833.7 670.8 1830.6 675.8 1828.5 680.0 C1826.4 684.2 1825.5 685.8 1825.2 688.5 C1825.0 691.2 1825.6 693.7 1827.0 696.5 C1828.4 699.3 1831.3 702.3 1833.4 705.2 M1833.4 705.2 C1838.1 710.8 1841.6 715.4 1847.4 721.9 C1853.2 728.4 1861.2 736.9 1868.2 744.1 C1875.2 751.3 1882.6 758.5 1889.1 765.0 C1895.6 771.5 1901.4 777.8 1907.2 783.0 C1913.0 788.2 1918.4 791.7 1924.0 796.0 M1892.0 797.0 C1884.5 791.3 1874.7 784.0 1869.6 780.0 C1864.5 776.0 1865.0 776.0 1861.3 773.0 C1857.6 770.0 1852.1 765.9 1847.4 762.0 C1842.8 758.1 1838.1 754.1 1833.4 749.7 C1828.8 745.3 1824.1 740.4 1819.5 735.8 C1814.9 731.2 1810.2 725.7 1805.6 722.0 C1801.0 718.3 1797.2 715.4 1791.7 713.5 C1786.2 711.6 1782.2 710.7 1772.3 710.7 C1762.3 710.7 1745.4 712.6 1732.0 713.5 M580.0 972.0 C579.5 982.3 579.2 992.8 578.5 1003.0 C577.8 1013.2 576.5 1025.2 576.0 1033.0 C575.5 1040.8 575.7 1044.0 575.5 1049.5 M787.5 784.0 C788.5 800.0 790.5 816.0 790.5 832.0 C790.5 848.0 788.2 866.3 787.5 880.0 C786.8 893.7 786.8 902.7 786.5 914.0 M952.5 752.0 C943.7 773.3 933.1 799.7 926.0 816.0 C918.9 832.3 915.3 838.7 910.0 850.0 M1273.0 624.0 C1261.7 645.3 1248.7 669.9 1239.0 688.0 C1229.3 706.1 1223.0 717.8 1215.0 732.7 M1662.0 604.7 C1649.2 621.0 1634.8 640.1 1623.5 653.5 C1612.2 666.9 1603.8 674.5 1594.0 685.0 M523.0 1089.5 C529.3 1075.7 536.2 1065.6 542.0 1048.0 C547.8 1030.4 552.7 1005.3 558.0 984.0 M738.0 940.0 C743.0 932.7 748.7 926.0 753.0 918.0 C757.3 910.0 760.8 903.7 764.0 892.0 C767.2 880.3 770.2 863.3 772.0 848.0 C773.8 832.7 774.0 816.0 775.0 800.0 M868.0 864.0 C878.7 848.0 888.7 837.3 900.0 816.0 C911.3 794.7 924.0 762.7 936.0 736.0 M1164.0 741.0 C1170.7 734.0 1176.7 728.8 1184.0 720.0 C1191.3 711.2 1195.9 704.0 1208.0 688.0 C1220.1 672.0 1240.3 645.3 1256.5 624.0 M1527.5 687.5 C1538.2 683.2 1547.8 681.9 1559.5 674.5 C1571.2 667.1 1583.6 655.8 1598.0 643.0 C1612.4 630.2 1630.0 613.0 1646.0 598.0" fill="none" stroke="#302c28" stroke-width="4.0" stroke-linejoin="round" stroke-linecap="round"/>
  <path d="M1732.0 713.5 C1708.7 713.3 1684.3 713.0 1662.0 713.0 C1639.7 713.0 1619.3 713.2 1598.0 713.5 C1576.7 713.8 1555.3 714.2 1534.0 715.0 C1512.7 715.8 1491.3 716.8 1470.0 718.5 C1448.7 720.2 1427.3 722.3 1406.0 725.0 C1384.7 727.7 1363.3 730.3 1342.0 734.5 C1320.7 738.7 1298.5 744.4 1278.0 750.0 C1257.5 755.6 1235.2 763.8 1219.0 768.0 C1202.8 772.2 1194.3 772.2 1181.0 775.5 C1167.7 778.8 1152.5 783.2 1139.0 788.0 C1125.5 792.8 1114.0 798.0 1100.0 804.0 C1086.0 810.0 1071.7 816.4 1055.0 824.0 C1038.3 831.6 1017.5 841.0 1000.0 849.5 C982.5 858.0 966.7 866.2 950.0 875.0 C933.3 883.8 916.7 893.1 900.0 902.5 C883.3 911.9 866.7 921.8 850.0 931.5 C833.3 941.2 816.7 951.0 800.0 961.0 C783.3 971.0 766.7 980.8 750.0 991.5 C733.3 1002.2 714.2 1015.1 700.0 1025.0 C685.8 1034.9 677.5 1041.9 665.0 1051.0 C652.5 1060.1 638.8 1069.8 625.0 1079.5 C611.2 1089.2 596.2 1099.4 582.0 1109.5 C567.8 1119.6 553.7 1129.7 540.0 1140.0 C526.3 1150.3 514.0 1159.2 500.0 1171.5 C486.0 1183.8 470.6 1199.4 456.0 1213.5 C441.4 1227.6 427.0 1241.8 412.5 1256.0" fill="none" stroke="#302c28" stroke-width="5.2" stroke-linecap="round"/>

  <!-- cut end fade -->
  <g filter="url(#b2)">
    <polygon points="356,1192 386,1190 394,1204 386,1211 398,1222 392,1232 406,1240 402,1250 418,1262 400,1296 350,1250" fill="#fdfdfb"/>
  </g>

  <!-- cuticle band -->
  <g transform="translate(503.5 1139) rotate(-37)">
    <path d="M-6 -36 C8 -37 17 -33 21 -24 C25 -14 27 2 22 17 C19 27 12 33 2 33 L-10 33 C-18 33 -21 28 -20 22 C-16 7 -16 -8 -18 -24 C-19 -32 -14 -36 -6 -36 Z"
          fill="#b2afa6" stroke="#302c28" stroke-width="4.8" stroke-linejoin="round"/>
  </g>

  <!-- trait nodes -->
  <g fill="#b6b3aa" stroke="#302c28" stroke-width="4.8">
<ellipse cx="1197.5" cy="757.0" rx="20.5" ry="22.5"/>
<ellipse cx="1752.5" cy="699.0" rx="20.5" ry="22.0"/>
<ellipse cx="2056.5" cy="860.0" rx="21.0" ry="21.0"/>
  </g>

  <!-- labels -->
  <use href="#labels" filter="url(#b8)" opacity="0.11"/>
  <g class="lbl" id="labels" opacity="0.999">
<text x="100.5" y="1248.0" font-size="59" textLength="264.5" lengthAdjust="spacingAndGlyphs">Charophyta</text>
<text x="117.0" y="1304.0" font-size="49" textLength="231.5" lengthAdjust="spacingAndGlyphs">(green algae</text>
<text x="133.5" y="1362.5" font-size="49" textLength="196.5" lengthAdjust="spacingAndGlyphs">outgroup)</text>
<text x="521.5" y="1211.5" font-size="55" textLength="162.5" lengthAdjust="spacingAndGlyphs">Cuticle,</text>
<text x="521.5" y="1268.5" font-size="55" textLength="176.5" lengthAdjust="spacingAndGlyphs">Stomata</text>
<text x="336.5" y="788.0" font-size="59" textLength="397.5" lengthAdjust="spacingAndGlyphs">Marchantiophyta</text>
<text x="422.0" y="845.5" font-size="49" textLength="229.0" lengthAdjust="spacingAndGlyphs">(liverworts)</text>
<text x="483.5" y="616.5" font-size="59" textLength="408.5" lengthAdjust="spacingAndGlyphs">Anthocerotophyta</text>
<text x="571.5" y="674.5" font-size="49" textLength="232.0" lengthAdjust="spacingAndGlyphs">(hornworts)</text>
<text x="775.0" y="497.5" font-size="59" textLength="236.0" lengthAdjust="spacingAndGlyphs">Bryophyta</text>
<text x="1026.5" y="497.5" font-size="49" textLength="166.5" lengthAdjust="spacingAndGlyphs">(mosses)</text>
<text x="1192.5" y="367.5" font-size="59" textLength="351.0" lengthAdjust="spacingAndGlyphs">Lycopodiopsida</text>
<text x="1217.5" y="425.0" font-size="49" textLength="260.5" lengthAdjust="spacingAndGlyphs">(club mosses)</text>
<text x="1672.5" y="368.5" font-size="59" textLength="346.0" lengthAdjust="spacingAndGlyphs">Polypodiopsida</text>
<text x="1761.0" y="424.0" font-size="49" textLength="128.5" lengthAdjust="spacingAndGlyphs">(ferns)</text>
<text x="1221.0" y="823.5" font-size="55" textLength="185.0" lengthAdjust="spacingAndGlyphs">Vascular</text>
<text x="1219.0" y="881.0" font-size="55" textLength="138.0" lengthAdjust="spacingAndGlyphs">Tissue</text>
<text x="1683.0" y="779.0" font-size="55" textLength="119.0" lengthAdjust="spacingAndGlyphs">Seeds</text>
<text x="1961.0" y="933.0" font-size="55" textLength="169.5" lengthAdjust="spacingAndGlyphs">Flowers</text>
<text x="2299.0" y="340.0" font-size="59" textLength="286.5" lengthAdjust="spacingAndGlyphs">Cycadopsida</text>
<text x="2298.0" y="396.0" font-size="49" textLength="160.5" lengthAdjust="spacingAndGlyphs">(cycads)</text>
<text x="2303.5" y="504.5" font-size="59" textLength="309.0" lengthAdjust="spacingAndGlyphs">Ginkgoopsida</text>
<text x="2303.5" y="563.0" font-size="49" textLength="161.5" lengthAdjust="spacingAndGlyphs">(ginkgo)</text>
<text x="2303.5" y="677.5" font-size="59" textLength="226.0" lengthAdjust="spacingAndGlyphs">Pinopsida</text>
<text x="2305.0" y="735.0" font-size="49" textLength="183.5" lengthAdjust="spacingAndGlyphs">(conifers)</text>
<text x="2285.5" y="880.0" font-size="59" textLength="340.5" lengthAdjust="spacingAndGlyphs">Magnoliopsida</text>
<text x="2289.0" y="943.5" font-size="49" textLength="337.5" lengthAdjust="spacingAndGlyphs">(flowering plants:</text>
<text x="2287.0" y="998.0" font-size="49" textLength="458.5" lengthAdjust="spacingAndGlyphs">monocots and eudicots)</text>
  </g>
</svg>
<div class="wm">conceptviz.app</div>
</body>
</html>
